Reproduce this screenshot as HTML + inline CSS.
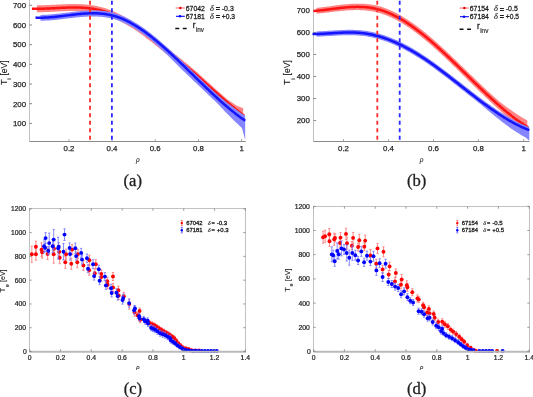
<!DOCTYPE html>
<html><head><meta charset="utf-8"><style>
html,body{margin:0;padding:0;background:#fff;width:533px;height:397px;overflow:hidden}
svg{display:block;will-change:transform;opacity:0.999}
</style></head><body>
<svg width="533" height="397" viewBox="0 0 533 397"><line x1="29.5" y1="0" x2="29.5" y2="141.5" stroke="#c0c0c0" stroke-width="1"/>
<line x1="29.5" y1="141.5" x2="245.7" y2="141.5" stroke="#8a8a8a" stroke-width="1"/>
<line x1="29.5" y1="5.3" x2="32.1" y2="5.3" stroke="#777" stroke-width="0.9"/>
<text x="26.00" y="8.10" text-anchor="end" style="font-family:'Liberation Sans',sans-serif;font-size:7.85px;stroke:#1e1e1e;stroke-width:0.25px" fill="#1e1e1e">700</text>
<line x1="29.5" y1="24.98" x2="32.1" y2="24.98" stroke="#777" stroke-width="0.9"/>
<text x="26.00" y="27.78" text-anchor="end" style="font-family:'Liberation Sans',sans-serif;font-size:7.85px;stroke:#1e1e1e;stroke-width:0.25px" fill="#1e1e1e">600</text>
<line x1="29.5" y1="44.66" x2="32.1" y2="44.66" stroke="#777" stroke-width="0.9"/>
<text x="26.00" y="47.46" text-anchor="end" style="font-family:'Liberation Sans',sans-serif;font-size:7.85px;stroke:#1e1e1e;stroke-width:0.25px" fill="#1e1e1e">500</text>
<line x1="29.5" y1="64.34" x2="32.1" y2="64.34" stroke="#777" stroke-width="0.9"/>
<text x="26.00" y="67.14" text-anchor="end" style="font-family:'Liberation Sans',sans-serif;font-size:7.85px;stroke:#1e1e1e;stroke-width:0.25px" fill="#1e1e1e">400</text>
<line x1="29.5" y1="84.02" x2="32.1" y2="84.02" stroke="#777" stroke-width="0.9"/>
<text x="26.00" y="86.82" text-anchor="end" style="font-family:'Liberation Sans',sans-serif;font-size:7.85px;stroke:#1e1e1e;stroke-width:0.25px" fill="#1e1e1e">300</text>
<line x1="29.5" y1="103.7" x2="32.1" y2="103.7" stroke="#777" stroke-width="0.9"/>
<text x="26.00" y="106.50" text-anchor="end" style="font-family:'Liberation Sans',sans-serif;font-size:7.85px;stroke:#1e1e1e;stroke-width:0.25px" fill="#1e1e1e">200</text>
<line x1="29.5" y1="123.38" x2="32.1" y2="123.38" stroke="#777" stroke-width="0.9"/>
<text x="26.00" y="126.18" text-anchor="end" style="font-family:'Liberation Sans',sans-serif;font-size:7.85px;stroke:#1e1e1e;stroke-width:0.25px" fill="#1e1e1e">100</text>
<line x1="69.0" y1="141.5" x2="69.0" y2="139.2" stroke="#999" stroke-width="0.9"/>
<text x="69.00" y="151.30" text-anchor="middle" style="font-family:'Liberation Sans',sans-serif;font-size:7.85px;stroke:#1e1e1e;stroke-width:0.25px" fill="#1e1e1e">0.2</text>
<line x1="112.0" y1="141.5" x2="112.0" y2="139.2" stroke="#999" stroke-width="0.9"/>
<text x="112.00" y="151.30" text-anchor="middle" style="font-family:'Liberation Sans',sans-serif;font-size:7.85px;stroke:#1e1e1e;stroke-width:0.25px" fill="#1e1e1e">0.4</text>
<line x1="155.2" y1="141.5" x2="155.2" y2="139.2" stroke="#999" stroke-width="0.9"/>
<text x="155.20" y="151.30" text-anchor="middle" style="font-family:'Liberation Sans',sans-serif;font-size:7.85px;stroke:#1e1e1e;stroke-width:0.25px" fill="#1e1e1e">0.6</text>
<line x1="198.5" y1="141.5" x2="198.5" y2="139.2" stroke="#999" stroke-width="0.9"/>
<text x="198.50" y="151.30" text-anchor="middle" style="font-family:'Liberation Sans',sans-serif;font-size:7.85px;stroke:#1e1e1e;stroke-width:0.25px" fill="#1e1e1e">0.8</text>
<line x1="241.6" y1="141.5" x2="241.6" y2="139.2" stroke="#999" stroke-width="0.9"/>
<text x="241.60" y="151.30" text-anchor="middle" style="font-family:'Liberation Sans',sans-serif;font-size:7.85px;stroke:#1e1e1e;stroke-width:0.25px" fill="#1e1e1e">1</text>
<polygon points="36.88,5.33 37.88,5.32 38.88,5.31 39.87,5.29 40.87,5.27 41.87,5.25 42.86,5.22 43.86,5.18 44.86,5.15 45.85,5.11 46.85,5.07 47.85,5.03 48.84,4.98 49.84,4.94 50.84,4.89 51.83,4.84 52.83,4.79 53.83,4.74 54.82,4.69 55.82,4.64 56.82,4.59 57.81,4.54 58.81,4.49 59.81,4.44 60.80,4.39 61.80,4.35 62.80,4.30 63.79,4.26 64.79,4.23 65.79,4.19 66.78,4.16 67.78,4.13 68.78,4.10 69.78,4.08 70.77,4.07 71.77,4.05 72.77,4.05 73.76,4.05 74.76,4.05 75.76,4.06 76.75,4.07 77.75,4.09 78.75,4.12 79.74,4.15 80.74,4.20 81.74,4.24 82.73,4.30 83.73,4.36 84.73,4.44 85.72,4.52 86.72,4.61 87.72,4.71 88.71,4.82 89.71,4.93 90.71,5.06 91.70,5.20 92.70,5.35 93.70,5.51 94.69,5.68 95.69,5.86 96.69,6.05 97.68,6.26 98.68,6.47 99.68,6.70 100.67,6.95 101.67,7.20 102.67,7.47 103.66,7.75 104.66,8.05 105.66,8.36 106.65,8.69 107.65,9.03 108.65,9.38 109.64,9.75 110.64,10.14 111.64,10.54 112.63,10.96 113.63,11.39 114.63,11.83 115.62,12.29 116.62,12.75 117.62,13.23 118.61,13.72 119.61,14.21 120.61,14.71 121.60,15.23 122.60,15.75 123.60,16.28 124.59,16.82 125.59,17.36 126.59,17.92 127.58,18.49 128.58,19.06 129.58,19.65 130.57,20.24 131.57,20.85 132.57,21.46 133.56,22.09 134.56,22.73 135.56,23.39 136.55,24.05 137.55,24.73 138.55,25.43 139.55,26.13 140.54,26.85 141.54,27.58 142.54,28.32 143.53,29.06 144.53,29.82 145.53,30.58 146.52,31.35 147.52,32.12 148.52,32.90 149.51,33.68 150.51,34.47 151.51,35.26 152.50,36.05 153.50,36.84 154.50,37.63 155.49,38.43 156.49,39.23 157.49,40.03 158.48,40.83 159.48,41.63 160.48,42.43 161.47,43.24 162.47,44.04 163.47,44.85 164.46,45.65 165.46,46.46 166.46,47.27 167.45,48.07 168.45,48.88 169.45,49.69 170.44,50.49 171.44,51.30 172.44,52.10 173.43,52.91 174.43,53.71 175.43,54.51 176.42,55.31 177.42,56.11 178.42,56.91 179.41,57.71 180.41,58.50 181.41,59.29 182.40,60.09 183.40,60.88 184.40,61.67 185.39,62.47 186.39,63.27 187.39,64.08 188.38,64.89 189.38,65.71 190.38,66.54 191.37,67.38 192.37,68.23 193.37,69.08 194.36,69.94 195.36,70.81 196.36,71.68 197.35,72.56 198.35,73.44 199.35,74.33 200.34,75.22 201.34,76.12 202.34,77.02 203.33,77.92 204.33,78.83 205.33,79.74 206.32,80.64 207.32,81.55 208.32,82.46 209.32,83.37 210.31,84.27 211.31,85.18 212.31,86.08 213.30,86.99 214.30,87.89 215.30,88.79 216.29,89.68 217.29,90.58 218.29,91.47 219.28,92.36 220.28,93.24 221.28,94.12 222.27,95.00 223.27,95.87 224.27,96.74 225.26,97.61 226.26,98.46 227.26,99.28 228.25,99.97 229.25,100.66 230.25,101.34 231.24,102.01 232.24,102.68 233.24,103.34 234.23,103.99 235.23,104.64 236.23,105.28 237.22,105.89 238.22,106.28 239.22,106.67 240.21,107.05 241.21,107.42 242.21,107.78 243.20,108.13 243.20,124.05 242.21,122.82 241.21,121.58 240.21,120.33 239.22,119.08 238.22,117.82 237.22,116.54 236.23,115.50 235.23,114.51 234.23,113.52 233.24,112.51 232.24,111.51 231.24,110.49 230.25,109.47 229.25,108.44 228.25,107.41 227.26,106.37 226.26,105.46 225.26,104.59 224.27,103.71 223.27,102.83 222.27,101.95 221.28,101.06 220.28,100.17 219.28,99.27 218.29,98.37 217.29,97.47 216.29,96.56 215.30,95.66 214.30,94.75 213.30,93.83 212.31,92.92 211.31,92.00 210.31,91.09 209.32,90.17 208.32,89.25 207.32,88.33 206.32,87.41 205.33,86.50 204.33,85.58 203.33,84.66 202.34,83.75 201.34,82.83 200.34,81.92 199.35,81.03 198.35,80.14 197.35,79.26 196.36,78.38 195.36,77.51 194.36,76.65 193.37,75.79 192.37,74.94 191.37,74.10 190.38,73.26 189.38,72.43 188.38,71.61 187.39,70.80 186.39,70.00 185.39,69.20 184.40,68.40 183.40,67.61 182.40,66.82 181.41,66.03 180.41,65.24 179.41,64.44 178.42,63.65 177.42,62.85 176.42,62.05 175.43,61.26 174.43,60.45 173.43,59.65 172.44,58.85 171.44,58.05 170.44,57.24 169.45,56.44 168.45,55.64 167.45,54.83 166.46,54.03 165.46,53.22 164.46,52.42 163.47,51.61 162.47,50.81 161.47,50.01 160.48,49.20 159.48,48.40 158.48,47.60 157.49,46.80 156.49,46.00 155.49,45.21 154.50,44.41 153.50,43.62 152.50,42.83 151.51,42.04 150.51,41.26 149.51,40.47 148.52,39.69 147.52,38.92 146.52,38.14 145.53,37.38 144.53,36.62 143.53,35.86 142.54,35.12 141.54,34.38 140.54,33.66 139.55,32.94 138.55,32.24 137.55,31.54 136.55,30.87 135.56,30.20 134.56,29.55 133.56,28.91 132.57,28.28 131.57,27.67 130.57,27.06 129.58,26.47 128.58,25.89 127.58,25.32 126.59,24.75 125.59,24.20 124.59,23.65 123.60,23.11 122.60,22.59 121.60,22.07 120.61,21.56 119.61,21.05 118.61,20.56 117.62,20.08 116.62,19.60 115.62,19.14 114.63,18.68 113.63,18.24 112.63,17.81 111.64,17.40 110.64,17.00 109.64,16.61 108.65,16.24 107.65,15.89 106.65,15.55 105.66,15.23 104.66,14.92 103.66,14.63 102.67,14.34 101.67,14.08 100.67,13.82 99.68,13.58 98.68,13.35 97.68,13.14 96.69,12.94 95.69,12.74 94.69,12.56 93.70,12.40 92.70,12.24 91.70,12.09 90.71,11.96 89.71,11.83 88.71,11.71 87.72,11.61 86.72,11.51 85.72,11.42 84.73,11.34 83.73,11.27 82.73,11.21 81.74,11.15 80.74,11.11 79.74,11.07 78.75,11.04 77.75,11.01 76.75,10.99 75.76,10.98 74.76,10.97 73.76,10.97 72.77,10.97 71.77,10.98 70.77,11.00 69.78,11.02 68.78,11.04 67.78,11.06 66.78,11.10 65.79,11.13 64.79,11.17 63.79,11.21 62.80,11.25 61.80,11.29 60.80,11.34 59.81,11.39 58.81,11.44 57.81,11.49 56.82,11.54 55.82,11.59 54.82,11.65 53.83,11.70 52.83,11.75 51.83,11.80 50.84,11.85 49.84,11.90 48.84,11.95 47.85,12.00 46.85,12.04 45.85,12.08 44.86,12.12 43.86,12.16 42.86,12.20 41.87,12.23 40.87,12.25 39.87,12.28 38.88,12.29 37.88,12.31 36.88,12.32" fill="#ff8585"/>
<polyline points="31.90,8.78 32.90,8.80 33.89,8.81 34.89,8.82 35.89,8.82 36.88,8.82 37.88,8.81 38.88,8.79 39.87,8.78 40.87,8.75 41.87,8.73 42.86,8.70 43.86,8.66 44.86,8.62 45.85,8.58 46.85,8.54 47.85,8.50 48.84,8.45 49.84,8.40 50.84,8.35 51.83,8.30 52.83,8.25 53.83,8.20 54.82,8.15 55.82,8.09 56.82,8.04 57.81,7.99 58.81,7.94 59.81,7.89 60.80,7.84 61.80,7.79 62.80,7.75 63.79,7.71 64.79,7.67 65.79,7.63 66.78,7.60 67.78,7.56 68.78,7.54 69.78,7.52 70.77,7.50 71.77,7.48 72.77,7.47 73.76,7.47 74.76,7.47 75.76,7.48 76.75,7.49 77.75,7.51 78.75,7.54 79.74,7.57 80.74,7.61 81.74,7.65 82.73,7.71 83.73,7.77 84.73,7.84 85.72,7.92 86.72,8.01 87.72,8.11 88.71,8.21 89.71,8.33 90.71,8.46 91.70,8.59 92.70,8.74 93.70,8.90 94.69,9.06 95.69,9.24 96.69,9.44 97.68,9.64 98.68,9.85 99.68,10.08 100.67,10.32 101.67,10.58 102.67,10.84 103.66,11.13 104.66,11.42 105.66,11.73 106.65,12.05 107.65,12.39 108.65,12.74 109.64,13.11 110.64,13.50 111.64,13.90 112.63,14.31 113.63,14.74 114.63,15.18 115.62,15.64 116.62,16.10 117.62,16.58 118.61,17.06 119.61,17.55 120.61,18.06 121.60,18.57 122.60,19.09 123.60,19.61 124.59,20.15 125.59,20.70 126.59,21.25 127.58,21.82 128.58,22.39 129.58,22.97 130.57,23.56 131.57,24.17 132.57,24.78 133.56,25.41 134.56,26.05 135.56,26.70 136.55,27.37 137.55,28.04 138.55,28.74 139.55,29.44 140.54,30.16 141.54,30.88 142.54,31.62 143.53,32.36 144.53,33.12 145.53,33.88 146.52,34.64 147.52,35.42 148.52,36.19 149.51,36.97 150.51,37.76 151.51,38.54 152.50,39.33 153.50,40.12 154.50,40.91 155.49,41.71 156.49,42.50 157.49,43.30 158.48,44.10 159.48,44.90 160.48,45.70 161.47,46.51 162.47,47.31 163.47,48.11 164.46,48.92 165.46,49.72 166.46,50.53 167.45,51.33 168.45,52.14 169.45,52.94 170.44,53.74 171.44,54.55 172.44,55.35 173.43,56.15 174.43,56.95 175.43,57.76 176.42,58.55 177.42,59.35 178.42,60.15 179.41,60.94 180.41,61.74 181.41,62.53 182.40,63.32 183.40,64.11 184.40,64.90 185.39,65.70 186.39,66.50 187.39,67.30 188.38,68.11 189.38,68.93 190.38,69.76 191.37,70.60 192.37,71.44 193.37,72.29 194.36,73.15 195.36,74.01 196.36,74.88 197.35,75.76 198.35,76.64 199.35,77.53 200.34,78.42 201.34,79.31 202.34,80.20 203.33,81.10 204.33,82.00 205.33,82.90 206.32,83.80 207.32,84.70 208.32,85.60 209.32,86.50 210.31,87.40 211.31,88.29 212.31,89.19 213.30,90.09 214.30,90.98 215.30,91.87 216.29,92.76 217.29,93.65 218.29,94.53 219.28,95.41 220.28,96.29 221.28,97.17 222.27,98.03 223.27,98.90 224.27,99.76 225.26,100.62 226.26,101.47 227.26,102.32 228.25,103.16 229.25,103.99 230.25,104.82 231.24,105.64 232.24,106.46 233.24,107.27 234.23,108.07 235.23,108.86 236.23,109.65 237.22,110.43 238.22,111.21 239.22,111.97 240.21,112.73 241.21,113.48 242.21,114.22 243.20,114.95 244.20,115.67" fill="none" stroke="#ff1414" stroke-width="2.5" stroke-linejoin="round"/>
<polygon points="40.49,14.89 41.49,14.88 42.49,14.86 43.49,14.84 44.49,14.80 45.49,14.76 46.48,14.71 47.48,14.65 48.48,14.59 49.48,14.52 50.48,14.44 51.48,14.36 52.48,14.27 53.47,14.18 54.47,14.08 55.47,13.98 56.47,13.87 57.47,13.76 58.47,13.65 59.47,13.53 60.46,13.41 61.46,13.29 62.46,13.17 63.46,13.04 64.46,12.92 65.46,12.79 66.46,12.66 67.45,12.54 68.45,12.41 69.45,12.29 70.45,12.16 71.45,12.04 72.45,11.92 73.45,11.80 74.44,11.68 75.44,11.56 76.44,11.45 77.44,11.35 78.44,11.24 79.44,11.14 80.44,11.05 81.43,10.96 82.43,10.87 83.43,10.79 84.43,10.72 85.43,10.65 86.43,10.59 87.43,10.54 88.42,10.49 89.42,10.46 90.42,10.43 91.42,10.41 92.42,10.40 93.42,10.39 94.42,10.40 95.41,10.42 96.41,10.44 97.41,10.48 98.41,10.53 99.41,10.59 100.41,10.66 101.41,10.75 102.40,10.84 103.40,10.95 104.40,11.08 105.40,11.21 106.40,11.36 107.40,11.53 108.40,11.71 109.39,11.90 110.39,12.11 111.39,12.34 112.39,12.58 113.39,12.83 114.39,13.11 115.39,13.40 116.38,13.71 117.38,14.04 118.38,14.38 119.38,14.74 120.38,15.12 121.38,15.51 122.38,15.92 123.37,16.35 124.37,16.79 125.37,17.25 126.37,17.73 127.37,18.22 128.37,18.72 129.37,19.24 130.36,19.77 131.36,20.32 132.36,20.88 133.36,21.45 134.36,22.04 135.36,22.64 136.36,23.26 137.35,23.89 138.35,24.53 139.35,25.18 140.35,25.84 141.35,26.52 142.35,27.20 143.35,27.90 144.34,28.61 145.34,29.33 146.34,30.06 147.34,30.81 148.34,31.56 149.34,32.32 150.34,33.09 151.33,33.87 152.33,34.66 153.33,35.46 154.33,36.26 155.33,37.08 156.33,37.90 157.33,38.73 158.32,39.57 159.32,40.42 160.32,41.27 161.32,42.14 162.32,43.00 163.32,43.88 164.32,44.76 165.31,45.65 166.31,46.54 167.31,47.44 168.31,48.35 169.31,49.26 170.31,50.18 171.31,51.10 172.30,52.02 173.30,52.95 174.30,53.89 175.30,54.83 176.30,55.77 177.30,56.72 178.30,57.67 179.29,58.62 180.29,59.57 181.29,60.51 182.29,61.45 183.29,62.40 184.29,63.35 185.29,64.29 186.28,65.25 187.28,66.20 188.28,67.15 189.28,68.11 190.28,69.06 191.28,70.02 192.28,70.97 193.27,71.93 194.27,72.89 195.27,73.84 196.27,74.80 197.27,75.75 198.27,76.71 199.27,77.66 200.26,78.61 201.26,79.56 202.26,80.51 203.26,81.45 204.26,82.40 205.26,83.34 206.26,84.28 207.25,85.21 208.25,86.14 209.25,87.07 210.25,88.00 211.25,88.92 212.25,89.84 213.25,90.75 214.24,91.66 215.24,92.56 216.24,93.46 217.24,94.36 218.24,95.24 219.24,96.13 220.24,97.00 221.23,97.84 222.23,98.67 223.23,99.49 224.23,100.31 225.23,101.13 226.23,101.93 227.23,102.73 228.22,103.52 229.22,104.30 230.22,105.08 231.22,105.84 232.22,106.60 233.22,107.35 234.22,108.09 235.21,108.82 236.21,109.54 237.21,110.26 238.21,110.98 239.21,111.69 240.21,112.38 241.21,113.07 242.20,113.75 243.20,114.42 244.20,115.07 245.20,115.72 245.20,139.92 244.20,136.21 243.20,132.49 242.20,128.76 241.21,127.29 240.21,126.38 239.21,125.47 238.21,124.54 237.21,123.61 236.21,122.66 235.21,121.71 234.22,120.74 233.22,119.77 232.22,118.79 231.22,117.80 230.22,116.80 229.22,115.79 228.22,114.77 227.23,113.75 226.23,112.72 225.23,111.68 224.23,110.64 223.23,109.59 222.23,108.53 221.23,107.46 220.24,106.39 219.24,105.32 218.24,104.23 217.24,103.14 216.24,102.19 215.24,101.27 214.24,100.34 213.25,99.41 212.25,98.48 211.25,97.54 210.25,96.60 209.25,95.66 208.25,94.71 207.25,93.76 206.26,92.80 205.26,91.84 204.26,90.90 203.26,89.95 202.26,89.01 201.26,88.06 200.26,87.11 199.27,86.16 198.27,85.21 197.27,84.25 196.27,83.30 195.27,82.34 194.27,81.39 193.27,80.43 192.28,79.47 191.28,78.52 190.28,77.56 189.28,76.61 188.28,75.65 187.28,74.70 186.28,73.75 185.29,72.79 184.29,71.85 183.29,70.90 182.29,69.95 181.29,69.01 180.29,68.07 179.29,67.07 178.30,66.04 177.30,65.02 176.30,64.01 175.30,62.99 174.30,61.98 173.30,60.98 172.30,59.97 171.31,58.98 170.31,57.98 169.31,57.00 168.31,56.01 167.31,55.04 166.31,54.07 165.31,53.10 164.32,52.14 163.32,51.19 162.32,50.24 161.32,49.30 160.32,48.37 159.32,47.44 158.32,46.53 157.33,45.61 156.33,44.71 155.33,43.82 154.33,42.93 153.33,42.05 152.33,41.18 151.33,40.32 150.34,39.47 149.34,38.67 148.34,37.91 147.34,37.15 146.34,36.40 145.34,35.67 144.34,34.94 143.35,34.23 142.35,33.53 141.35,32.83 140.35,32.15 139.35,31.48 138.35,30.83 137.35,30.18 136.36,29.55 135.36,28.93 134.36,28.33 133.36,27.73 132.36,27.15 131.36,26.59 130.36,26.03 129.37,25.50 128.37,24.97 127.37,24.46 126.37,23.97 125.37,23.49 124.37,23.03 123.37,22.58 122.38,22.15 121.38,21.73 120.38,21.33 119.38,20.95 118.38,20.59 117.38,20.24 116.38,19.91 115.39,19.59 114.39,19.30 113.39,19.02 112.39,18.75 111.39,18.51 110.39,18.28 109.39,18.06 108.40,17.86 107.40,17.68 106.40,17.51 105.40,17.36 104.40,17.21 103.40,17.09 102.40,16.97 101.41,16.87 100.41,16.78 99.41,16.70 98.41,16.64 97.41,16.58 96.41,16.54 95.41,16.51 94.42,16.49 93.42,16.48 92.42,16.47 91.42,16.48 90.42,16.50 89.42,16.52 88.42,16.55 87.43,16.59 86.43,16.64 85.43,16.70 84.43,16.76 83.43,16.83 82.43,16.90 81.43,16.98 80.44,17.07 79.44,17.16 78.44,17.25 77.44,17.35 76.44,17.45 75.44,17.56 74.44,17.67 73.45,17.78 72.45,17.90 71.45,18.01 70.45,18.13 69.45,18.25 68.45,18.37 67.45,18.50 66.46,18.62 65.46,18.74 64.46,18.86 63.46,18.98 62.46,19.10 61.46,19.22 60.46,19.34 59.47,19.45 58.47,19.56 57.47,19.67 56.47,19.77 55.47,19.88 54.47,19.97 53.47,20.07 52.48,20.16 51.48,20.24 50.48,20.32 49.48,20.39 48.48,20.45 47.48,20.51 46.48,20.57 45.49,20.61 44.49,20.65 43.49,20.68 42.49,20.70 41.49,20.71 40.49,20.72" fill="#8585ff"/>
<polyline points="35.50,17.59 36.50,17.63 37.50,17.66 38.50,17.68 39.49,17.70 40.49,17.70 41.49,17.69 42.49,17.68 43.49,17.65 44.49,17.62 45.49,17.58 46.48,17.53 47.48,17.47 48.48,17.41 49.48,17.34 50.48,17.26 51.48,17.18 52.48,17.09 53.47,17.00 54.47,16.91 55.47,16.80 56.47,16.70 57.47,16.59 58.47,16.48 59.47,16.36 60.46,16.25 61.46,16.13 62.46,16.01 63.46,15.88 64.46,15.76 65.46,15.63 66.46,15.51 67.45,15.38 68.45,15.26 69.45,15.13 70.45,15.01 71.45,14.89 72.45,14.77 73.45,14.65 74.44,14.53 75.44,14.42 76.44,14.31 77.44,14.20 78.44,14.10 79.44,14.00 80.44,13.91 81.43,13.82 82.43,13.74 83.43,13.66 84.43,13.59 85.43,13.52 86.43,13.46 87.43,13.41 88.42,13.37 89.42,13.33 90.42,13.30 91.42,13.29 92.42,13.27 93.42,13.27 94.42,13.28 95.41,13.30 96.41,13.33 97.41,13.37 98.41,13.42 99.41,13.48 100.41,13.55 101.41,13.64 102.40,13.74 103.40,13.85 104.40,13.97 105.40,14.11 106.40,14.26 107.40,14.43 108.40,14.61 109.39,14.80 110.39,15.01 111.39,15.24 112.39,15.48 113.39,15.74 114.39,16.02 115.39,16.31 116.38,16.62 117.38,16.95 118.38,17.30 119.38,17.66 120.38,18.04 121.38,18.43 122.38,18.85 123.37,19.27 124.37,19.72 125.37,20.18 126.37,20.65 127.37,21.14 128.37,21.65 129.37,22.17 130.36,22.70 131.36,23.25 132.36,23.81 133.36,24.39 134.36,24.98 135.36,25.58 136.36,26.20 137.35,26.83 138.35,27.47 139.35,28.12 140.35,28.79 141.35,29.46 142.35,30.15 143.35,30.85 144.34,31.56 145.34,32.29 146.34,33.02 147.34,33.76 148.34,34.51 149.34,35.28 150.34,36.05 151.33,36.83 152.33,37.62 153.33,38.42 154.33,39.23 155.33,40.04 156.33,40.87 157.33,41.70 158.32,42.54 159.32,43.39 160.32,44.25 161.32,45.11 162.32,45.98 163.32,46.86 164.32,47.74 165.31,48.63 166.31,49.52 167.31,50.43 168.31,51.33 169.31,52.25 170.31,53.16 171.31,54.09 172.30,55.01 173.30,55.94 174.30,56.88 175.30,57.82 176.30,58.77 177.30,59.71 178.30,60.66 179.29,61.62 180.29,62.58 181.29,63.54 182.29,64.50 183.29,65.46 184.29,66.43 185.29,67.40 186.28,68.37 187.28,69.34 188.28,70.32 189.28,71.29 190.28,72.27 191.28,73.24 192.28,74.22 193.27,75.20 194.27,76.17 195.27,77.15 196.27,78.12 197.27,79.10 198.27,80.07 199.27,81.04 200.26,82.02 201.26,82.98 202.26,83.95 203.26,84.92 204.26,85.88 205.26,86.84 206.26,87.80 207.25,88.76 208.25,89.71 209.25,90.66 210.25,91.60 211.25,92.54 212.25,93.48 213.25,94.41 214.24,95.34 215.24,96.27 216.24,97.19 217.24,98.10 218.24,99.01 219.24,99.91 220.24,100.81 221.23,101.70 222.23,102.59 223.23,103.46 224.23,104.34 225.23,105.20 226.23,106.06 227.23,106.91 228.22,107.75 229.22,108.59 230.22,109.42 231.22,110.24 232.22,111.05 233.22,111.85 234.22,112.64 235.21,113.43 236.21,114.20 237.21,114.97 238.21,115.72 239.21,116.47 240.21,117.20 241.21,117.93 242.20,118.64 243.20,119.35 244.20,120.04 245.20,120.72" fill="none" stroke="#1414ff" stroke-width="2.5" stroke-linejoin="round"/>
<line x1="90.05" y1="0" x2="90.05" y2="140.3" stroke="#ff2a2a" stroke-width="1.8" stroke-dasharray="4 3.5" stroke-dashoffset="-0.8"/>
<line x1="111.9" y1="0" x2="111.9" y2="140.3" stroke="#2a2aff" stroke-width="1.8" stroke-dasharray="4 3.5" stroke-dashoffset="-0.8"/>
<line x1="175.6" y1="8.0" x2="184.79999999999998" y2="8.0" stroke="#ffaaaa" stroke-width="1.8"/>
<circle cx="180.4" cy="8.0" r="1.25" fill="#ee0000"/>
<text x="185.80" y="10.9" textLength="19.00" lengthAdjust="spacingAndGlyphs" style="font-family:'Liberation Sans',sans-serif;font-size:8.1px;stroke:#1e1e1e;stroke-width:0.3px" fill="#1e1e1e">67042</text>
<text x="210.10" y="10.9" style="font-family:'Liberation Serif',serif;font-size:8.4px;font-style:italic;stroke:#1e1e1e;stroke-width:0.15px" fill="#1e1e1e">δ</text>
<text x="215.70" y="11.4" textLength="4.30" lengthAdjust="spacingAndGlyphs" style="font-family:'Liberation Sans',sans-serif;font-size:6.6px;stroke:#1e1e1e;stroke-width:0.35px" fill="#1e1e1e">=</text>
<text x="221.80" y="10.9" textLength="12.00" lengthAdjust="spacingAndGlyphs" style="font-family:'Liberation Sans',sans-serif;font-size:8.1px;stroke:#1e1e1e;stroke-width:0.3px" fill="#1e1e1e">-0.3</text>
<line x1="176.0" y1="16.3" x2="184.79999999999998" y2="16.3" stroke="#0000ff" stroke-width="1.1"/>
<circle cx="180.0" cy="16.3" r="1.2" fill="#0000ff"/>
<text x="185.80" y="18.6" textLength="19.00" lengthAdjust="spacingAndGlyphs" style="font-family:'Liberation Sans',sans-serif;font-size:8.1px;stroke:#1e1e1e;stroke-width:0.3px" fill="#1e1e1e">67181</text>
<text x="210.10" y="18.6" style="font-family:'Liberation Serif',serif;font-size:8.4px;font-style:italic;stroke:#1e1e1e;stroke-width:0.15px" fill="#1e1e1e">δ</text>
<text x="215.70" y="19.1" textLength="4.30" lengthAdjust="spacingAndGlyphs" style="font-family:'Liberation Sans',sans-serif;font-size:6.6px;stroke:#1e1e1e;stroke-width:0.35px" fill="#1e1e1e">=</text>
<text x="221.80" y="18.6" textLength="13.30" lengthAdjust="spacingAndGlyphs" style="font-family:'Liberation Sans',sans-serif;font-size:8.1px;stroke:#1e1e1e;stroke-width:0.3px" fill="#1e1e1e">+0.3</text>
<line x1="175.3" y1="28.5" x2="186.8" y2="28.5" stroke="#111" stroke-width="1.5" stroke-dasharray="3.9 3.6"/>
<text x="192.70" y="27.90" text-anchor="start" style="font-family:'Liberation Sans',sans-serif;font-size:8.2px;stroke:#1e1e1e;stroke-width:0.3px" fill="#1e1e1e">r</text>
<text x="195.90" y="31.80" text-anchor="start" style="font-family:'Liberation Sans',sans-serif;font-size:6.4px;stroke:#333;stroke-width:0.2px" fill="#333">inv</text>
<text transform="translate(7.1,85.1) rotate(-90)" style="font-family:'Liberation Sans',sans-serif;font-size:9.2px;stroke:#1e1e1e;stroke-width:0.15px" fill="#1e1e1e">T</text>
<text transform="translate(11.399999999999999,79.8) rotate(-90)" style="font-family:'Liberation Sans',sans-serif;font-size:6px;stroke:#1e1e1e;stroke-width:0.15px" fill="#333">i</text>
<text transform="translate(7.1,75.5) rotate(-90)" textLength="15.2" lengthAdjust="spacingAndGlyphs" style="font-family:'Liberation Sans',sans-serif;font-size:8.7px;stroke:#1e1e1e;stroke-width:0.18px" fill="#1e1e1e">[eV]</text>
<text x="137.80" y="161.90" text-anchor="middle" style="font-family:'Liberation Sans',sans-serif;font-size:6.4px;stroke:#1e1e1e;stroke-width:0.1px;font-style:italic" fill="#1e1e1e">ρ</text>
<text x="132.70" y="185.60" text-anchor="middle" style="font-family:'Liberation Serif',serif;font-size:16.6px;stroke:#1e1e1e;stroke-width:0.3px" fill="#1e1e1e">(a)</text>
<line x1="313.5" y1="0" x2="313.5" y2="141.5" stroke="#c0c0c0" stroke-width="1"/>
<line x1="313.5" y1="141.5" x2="529.6" y2="141.5" stroke="#8a8a8a" stroke-width="1"/>
<line x1="313.5" y1="10.4" x2="316.1" y2="10.4" stroke="#777" stroke-width="0.9"/>
<text x="309.80" y="13.20" text-anchor="end" style="font-family:'Liberation Sans',sans-serif;font-size:7.85px;stroke:#1e1e1e;stroke-width:0.25px" fill="#1e1e1e">700</text>
<line x1="313.5" y1="32.44" x2="316.1" y2="32.44" stroke="#777" stroke-width="0.9"/>
<text x="309.80" y="35.24" text-anchor="end" style="font-family:'Liberation Sans',sans-serif;font-size:7.85px;stroke:#1e1e1e;stroke-width:0.25px" fill="#1e1e1e">600</text>
<line x1="313.5" y1="54.48" x2="316.1" y2="54.48" stroke="#777" stroke-width="0.9"/>
<text x="309.80" y="57.28" text-anchor="end" style="font-family:'Liberation Sans',sans-serif;font-size:7.85px;stroke:#1e1e1e;stroke-width:0.25px" fill="#1e1e1e">500</text>
<line x1="313.5" y1="76.52000000000001" x2="316.1" y2="76.52000000000001" stroke="#777" stroke-width="0.9"/>
<text x="309.80" y="79.32" text-anchor="end" style="font-family:'Liberation Sans',sans-serif;font-size:7.85px;stroke:#1e1e1e;stroke-width:0.25px" fill="#1e1e1e">400</text>
<line x1="313.5" y1="98.56" x2="316.1" y2="98.56" stroke="#777" stroke-width="0.9"/>
<text x="309.80" y="101.36" text-anchor="end" style="font-family:'Liberation Sans',sans-serif;font-size:7.85px;stroke:#1e1e1e;stroke-width:0.25px" fill="#1e1e1e">300</text>
<line x1="313.5" y1="120.6" x2="316.1" y2="120.6" stroke="#777" stroke-width="0.9"/>
<text x="309.80" y="123.40" text-anchor="end" style="font-family:'Liberation Sans',sans-serif;font-size:7.85px;stroke:#1e1e1e;stroke-width:0.25px" fill="#1e1e1e">200</text>
<line x1="343.5" y1="141.5" x2="343.5" y2="139.2" stroke="#999" stroke-width="0.9"/>
<text x="343.50" y="151.30" text-anchor="middle" style="font-family:'Liberation Sans',sans-serif;font-size:7.85px;stroke:#1e1e1e;stroke-width:0.25px" fill="#1e1e1e">0.2</text>
<line x1="388.5" y1="141.5" x2="388.5" y2="139.2" stroke="#999" stroke-width="0.9"/>
<text x="388.50" y="151.30" text-anchor="middle" style="font-family:'Liberation Sans',sans-serif;font-size:7.85px;stroke:#1e1e1e;stroke-width:0.25px" fill="#1e1e1e">0.4</text>
<line x1="433.5" y1="141.5" x2="433.5" y2="139.2" stroke="#999" stroke-width="0.9"/>
<text x="433.50" y="151.30" text-anchor="middle" style="font-family:'Liberation Sans',sans-serif;font-size:7.85px;stroke:#1e1e1e;stroke-width:0.25px" fill="#1e1e1e">0.6</text>
<line x1="478.4" y1="141.5" x2="478.4" y2="139.2" stroke="#999" stroke-width="0.9"/>
<text x="478.40" y="151.30" text-anchor="middle" style="font-family:'Liberation Sans',sans-serif;font-size:7.85px;stroke:#1e1e1e;stroke-width:0.25px" fill="#1e1e1e">0.8</text>
<line x1="523.7" y1="141.5" x2="523.7" y2="139.2" stroke="#999" stroke-width="0.9"/>
<text x="523.70" y="151.30" text-anchor="middle" style="font-family:'Liberation Sans',sans-serif;font-size:7.85px;stroke:#1e1e1e;stroke-width:0.25px" fill="#1e1e1e">1</text>
<polygon points="316.40,7.85 317.40,7.75 318.40,7.64 319.40,7.53 320.40,7.42 321.40,7.30 322.40,7.18 323.40,7.05 324.39,6.93 325.39,6.80 326.39,6.67 327.39,6.54 328.39,6.41 329.39,6.27 330.39,6.14 331.39,6.01 332.39,5.88 333.39,5.74 334.39,5.61 335.39,5.48 336.39,5.35 337.39,5.23 338.39,5.10 339.39,4.98 340.39,4.86 341.39,4.75 342.39,4.64 343.39,4.53 344.39,4.43 345.39,4.33 346.38,4.24 347.38,4.15 348.38,4.07 349.38,4.00 350.38,3.93 351.38,3.87 352.38,3.81 353.38,3.76 354.38,3.72 355.38,3.69 356.38,3.67 357.38,3.66 358.38,3.65 359.38,3.66 360.38,3.67 361.38,3.70 362.38,3.73 363.38,3.78 364.38,3.84 365.38,3.91 366.38,3.99 367.37,4.08 368.37,4.19 369.37,4.31 370.37,4.44 371.37,4.58 372.37,4.74 373.37,4.92 374.37,5.11 375.37,5.31 376.37,5.53 377.37,5.77 378.37,6.02 379.37,6.28 380.37,6.57 381.37,6.87 382.37,7.18 383.37,7.51 384.37,7.85 385.37,8.21 386.37,8.59 387.37,8.97 388.37,9.38 389.36,9.79 390.36,10.23 391.36,10.67 392.36,11.13 393.36,11.60 394.36,12.09 395.36,12.59 396.36,13.10 397.36,13.62 398.36,14.16 399.36,14.71 400.36,15.27 401.36,15.84 402.36,16.43 403.36,17.03 404.36,17.64 405.36,18.26 406.36,18.89 407.36,19.53 408.36,20.18 409.36,20.85 410.35,21.52 411.35,22.21 412.35,22.90 413.35,23.61 414.35,24.32 415.35,25.04 416.35,25.78 417.35,26.52 418.35,27.27 419.35,28.03 420.35,28.80 421.35,29.58 422.35,30.37 423.35,31.16 424.35,31.97 425.35,32.78 426.35,33.59 427.35,34.42 428.35,35.25 429.35,36.09 430.35,36.94 431.35,37.79 432.34,38.65 433.34,39.52 434.34,40.39 435.34,41.27 436.34,42.16 437.34,43.05 438.34,43.94 439.34,44.84 440.34,45.75 441.34,46.66 442.34,47.58 443.34,48.50 444.34,49.42 445.34,50.35 446.34,51.29 447.34,52.22 448.34,53.17 449.34,54.11 450.34,55.06 451.34,56.01 452.34,56.96 453.33,57.92 454.33,58.88 455.33,59.84 456.33,60.80 457.33,61.77 458.33,62.73 459.33,63.70 460.33,64.67 461.33,65.64 462.33,66.61 463.33,67.58 464.33,68.56 465.33,69.53 466.33,70.50 467.33,71.48 468.33,72.45 469.33,73.42 470.33,74.39 471.33,75.37 472.33,76.34 473.33,77.31 474.33,78.27 475.32,79.24 476.32,80.20 477.32,81.17 478.32,82.13 479.32,83.08 480.32,84.04 481.32,84.99 482.32,85.94 483.32,86.89 484.32,87.83 485.32,88.77 486.32,89.70 487.32,90.64 488.32,91.56 489.32,92.49 490.32,93.41 491.32,94.32 492.32,95.23 493.32,96.13 494.32,97.03 495.32,97.93 496.31,98.82 497.31,99.70 498.31,100.57 499.31,101.44 500.31,102.28 501.31,103.04 502.31,103.80 503.31,104.55 504.31,105.29 505.31,106.03 506.31,106.76 507.31,107.48 508.31,108.19 509.31,108.89 510.31,109.60 511.31,110.32 512.31,111.02 513.31,111.73 514.31,112.42 515.31,113.10 516.31,113.77 517.31,114.44 518.30,115.09 519.30,115.73 520.30,116.36 521.30,116.99 522.30,117.60 523.30,118.20 524.30,118.79 525.30,119.37 526.30,119.95 527.30,120.58 527.30,132.77 526.30,132.09 525.30,131.39 524.30,130.68 523.30,129.96 522.30,129.23 521.30,128.49 520.30,127.73 519.30,126.97 518.30,126.20 517.31,125.41 516.31,124.62 515.31,123.81 514.31,123.00 513.31,122.18 512.31,121.35 511.31,120.51 510.31,119.66 509.31,118.80 508.31,117.93 507.31,117.06 506.31,116.18 505.31,115.29 504.31,114.39 503.31,113.49 502.31,112.57 501.31,111.65 500.31,110.73 499.31,109.83 498.31,108.95 497.31,108.06 496.31,107.16 495.32,106.26 494.32,105.35 493.32,104.44 492.32,103.52 491.32,102.60 490.32,101.67 489.32,100.74 488.32,99.80 487.32,98.86 486.32,97.91 485.32,96.96 484.32,96.01 483.32,95.05 482.32,94.09 481.32,93.13 480.32,92.16 479.32,91.20 478.32,90.22 477.32,89.25 476.32,88.27 475.32,87.30 474.33,86.32 473.33,85.33 472.33,84.35 471.33,83.37 470.33,82.38 469.33,81.40 468.33,80.41 467.33,79.42 466.33,78.44 465.33,77.45 464.33,76.46 463.33,75.47 462.33,74.49 461.33,73.50 460.33,72.52 459.33,71.54 458.33,70.55 457.33,69.57 456.33,68.59 455.33,67.62 454.33,66.64 453.33,65.67 452.34,64.70 451.34,63.73 450.34,62.77 449.34,61.81 448.34,60.85 447.34,59.89 446.34,58.94 445.34,57.99 444.34,57.05 443.34,56.11 442.34,55.18 441.34,54.25 440.34,53.32 439.34,52.40 438.34,51.49 437.34,50.58 436.34,49.67 435.34,48.77 434.34,47.88 433.34,46.99 432.34,46.11 431.35,45.24 430.35,44.37 429.35,43.51 428.35,42.66 427.35,41.81 426.35,40.97 425.35,40.14 424.35,39.31 423.35,38.50 422.35,37.69 421.35,36.89 420.35,36.10 419.35,35.31 418.35,34.54 417.35,33.77 416.35,33.02 415.35,32.27 414.35,31.53 413.35,30.80 412.35,30.08 411.35,29.37 410.35,28.67 409.36,27.99 408.36,27.31 407.36,26.64 406.36,25.98 405.36,25.34 404.36,24.71 403.36,24.08 402.36,23.47 401.36,22.87 400.36,22.28 399.36,21.71 398.36,21.15 397.36,20.59 396.36,20.06 395.36,19.53 394.36,19.02 393.36,18.52 392.36,18.03 391.36,17.56 390.36,17.10 389.36,16.66 388.37,16.23 387.37,15.81 386.37,15.41 385.37,15.02 384.37,14.65 383.37,14.29 382.37,13.94 381.37,13.62 380.37,13.30 379.37,13.01 378.37,12.73 377.37,12.46 376.37,12.21 375.37,11.98 374.37,11.76 373.37,11.56 372.37,11.37 371.37,11.20 370.37,11.04 369.37,10.89 368.37,10.76 367.37,10.64 366.38,10.53 365.38,10.43 364.38,10.35 363.38,10.28 362.38,10.22 361.38,10.17 360.38,10.13 359.38,10.10 358.38,10.08 357.38,10.07 356.38,10.07 355.38,10.08 354.38,10.10 353.38,10.13 352.38,10.16 351.38,10.20 350.38,10.25 349.38,10.30 348.38,10.36 347.38,10.43 346.38,10.50 345.39,10.58 344.39,10.67 343.39,10.76 342.39,10.85 341.39,10.95 340.39,11.05 339.39,11.15 338.39,11.26 337.39,11.37 336.39,11.48 335.39,11.59 334.39,11.71 333.39,11.83 332.39,11.95 331.39,12.06 330.39,12.18 329.39,12.30 328.39,12.42 327.39,12.54 326.39,12.66 325.39,12.77 324.39,12.89 323.40,13.00 322.40,13.11 321.40,13.22 320.40,13.32 319.40,13.42 318.40,13.52 317.40,13.61 316.40,13.70" fill="#ff8585"/>
<polyline points="313.40,11.03 314.40,10.95 315.40,10.86 316.40,10.77 317.40,10.68 318.40,10.58 319.40,10.47 320.40,10.37 321.40,10.26 322.40,10.14 323.40,10.03 324.39,9.91 325.39,9.79 326.39,9.66 327.39,9.54 328.39,9.41 329.39,9.29 330.39,9.16 331.39,9.04 332.39,8.91 333.39,8.79 334.39,8.66 335.39,8.54 336.39,8.42 337.39,8.30 338.39,8.18 339.39,8.07 340.39,7.96 341.39,7.85 342.39,7.74 343.39,7.64 344.39,7.55 345.39,7.46 346.38,7.37 347.38,7.29 348.38,7.22 349.38,7.15 350.38,7.09 351.38,7.03 352.38,6.98 353.38,6.94 354.38,6.91 355.38,6.89 356.38,6.87 357.38,6.86 358.38,6.87 359.38,6.88 360.38,6.90 361.38,6.93 362.38,6.98 363.38,7.03 364.38,7.09 365.38,7.17 366.38,7.26 367.37,7.36 368.37,7.47 369.37,7.60 370.37,7.74 371.37,7.89 372.37,8.06 373.37,8.24 374.37,8.43 375.37,8.64 376.37,8.87 377.37,9.11 378.37,9.37 379.37,9.65 380.37,9.94 381.37,10.24 382.37,10.56 383.37,10.90 384.37,11.25 385.37,11.62 386.37,12.00 387.37,12.39 388.37,12.80 389.36,13.23 390.36,13.66 391.36,14.12 392.36,14.58 393.36,15.06 394.36,15.55 395.36,16.06 396.36,16.58 397.36,17.11 398.36,17.65 399.36,18.21 400.36,18.78 401.36,19.36 402.36,19.95 403.36,20.55 404.36,21.17 405.36,21.80 406.36,22.44 407.36,23.09 408.36,23.75 409.36,24.42 410.35,25.10 411.35,25.79 412.35,26.49 413.35,27.20 414.35,27.92 415.35,28.66 416.35,29.40 417.35,30.15 418.35,30.91 419.35,31.67 420.35,32.45 421.35,33.23 422.35,34.03 423.35,34.83 424.35,35.64 425.35,36.46 426.35,37.28 427.35,38.11 428.35,38.95 429.35,39.80 430.35,40.65 431.35,41.52 432.34,42.38 433.34,43.26 434.34,44.14 435.34,45.02 436.34,45.91 437.34,46.81 438.34,47.71 439.34,48.62 440.34,49.54 441.34,50.45 442.34,51.38 443.34,52.31 444.34,53.24 445.34,54.17 446.34,55.11 447.34,56.06 448.34,57.01 449.34,57.96 450.34,58.91 451.34,59.87 452.34,60.83 453.33,61.79 454.33,62.76 455.33,63.73 456.33,64.70 457.33,65.67 458.33,66.64 459.33,67.62 460.33,68.59 461.33,69.57 462.33,70.55 463.33,71.53 464.33,72.51 465.33,73.49 466.33,74.47 467.33,75.45 468.33,76.43 469.33,77.41 470.33,78.39 471.33,79.37 472.33,80.34 473.33,81.32 474.33,82.29 475.32,83.27 476.32,84.24 477.32,85.21 478.32,86.17 479.32,87.14 480.32,88.10 481.32,89.06 482.32,90.02 483.32,90.97 484.32,91.92 485.32,92.87 486.32,93.81 487.32,94.75 488.32,95.68 489.32,96.61 490.32,97.54 491.32,98.46 492.32,99.38 493.32,100.29 494.32,101.19 495.32,102.09 496.31,102.99 497.31,103.88 498.31,104.76 499.31,105.64 500.31,106.51 501.31,107.37 502.31,108.23 503.31,109.08 504.31,109.92 505.31,110.76 506.31,111.59 507.31,112.41 508.31,113.22 509.31,114.02 510.31,114.82 511.31,115.61 512.31,116.38 513.31,117.15 514.31,117.91 515.31,118.66 516.31,119.41 517.31,120.14 518.30,120.86 519.30,121.57 520.30,122.27 521.30,122.96 522.30,123.64 523.30,124.31 524.30,124.97 525.30,125.62 526.30,126.25 527.30,126.88 528.30,127.49" fill="none" stroke="#ff1414" stroke-width="2.5" stroke-linejoin="round"/>
<polygon points="316.50,31.42 317.50,31.39 318.49,31.35 319.49,31.31 320.49,31.26 321.49,31.21 322.49,31.16 323.49,31.10 324.49,31.04 325.49,30.98 326.49,30.92 327.49,30.86 328.49,30.80 329.48,30.73 330.48,30.67 331.48,30.61 332.48,30.54 333.48,30.48 334.48,30.42 335.48,30.36 336.48,30.30 337.48,30.24 338.48,30.19 339.48,30.13 340.47,30.09 341.47,30.04 342.47,30.00 343.47,29.96 344.47,29.93 345.47,29.90 346.47,29.87 347.47,29.86 348.47,29.84 349.47,29.84 350.46,29.84 351.46,29.84 352.46,29.85 353.46,29.87 354.46,29.90 355.46,29.94 356.46,29.98 357.46,30.03 358.46,30.09 359.46,30.16 360.46,30.24 361.45,30.33 362.45,30.43 363.45,30.55 364.45,30.67 365.45,30.80 366.45,30.94 367.45,31.10 368.45,31.26 369.45,31.44 370.45,31.63 371.45,31.83 372.44,32.04 373.44,32.26 374.44,32.49 375.44,32.73 376.44,32.99 377.44,33.25 378.44,33.52 379.44,33.81 380.44,34.10 381.44,34.40 382.44,34.72 383.43,35.04 384.43,35.37 385.43,35.72 386.43,36.07 387.43,36.43 388.43,36.81 389.43,37.19 390.43,37.58 391.43,37.98 392.43,38.39 393.43,38.81 394.42,39.23 395.42,39.67 396.42,40.11 397.42,40.57 398.42,41.03 399.42,41.50 400.42,41.98 401.42,42.47 402.42,42.97 403.42,43.47 404.42,43.99 405.41,44.51 406.41,45.04 407.41,45.57 408.41,46.12 409.41,46.67 410.41,47.23 411.41,47.80 412.41,48.37 413.41,48.96 414.41,49.55 415.41,50.15 416.40,50.75 417.40,51.36 418.40,51.98 419.40,52.61 420.40,53.24 421.40,53.88 422.40,54.53 423.40,55.18 424.40,55.84 425.40,56.51 426.39,57.18 427.39,57.86 428.39,58.54 429.39,59.23 430.39,59.93 431.39,60.63 432.39,61.34 433.39,62.05 434.39,62.77 435.39,63.49 436.39,64.22 437.38,64.95 438.38,65.68 439.38,66.42 440.38,67.16 441.38,67.91 442.38,68.66 443.38,69.41 444.38,70.17 445.38,70.93 446.38,71.69 447.38,72.46 448.37,73.22 449.37,73.99 450.37,74.76 451.37,75.54 452.37,76.31 453.37,77.09 454.37,77.87 455.37,78.65 456.37,79.43 457.37,80.21 458.37,80.99 459.36,81.77 460.36,82.56 461.36,83.34 462.36,84.12 463.36,84.91 464.36,85.69 465.36,86.47 466.36,87.25 467.36,88.03 468.36,88.81 469.36,89.59 470.35,90.36 471.35,91.14 472.35,91.91 473.35,92.68 474.35,93.45 475.35,94.22 476.35,94.98 477.35,95.74 478.35,96.50 479.35,97.25 480.35,98.01 481.34,98.75 482.34,99.50 483.34,100.24 484.34,100.98 485.34,101.71 486.34,102.44 487.34,103.16 488.34,103.88 489.34,104.60 490.34,105.31 491.34,106.01 492.33,106.71 493.33,107.41 494.33,108.09 495.33,108.78 496.33,109.45 497.33,110.12 498.33,110.78 499.33,111.44 500.33,112.09 501.33,112.73 502.32,113.37 503.32,114.00 504.32,114.62 505.32,115.23 506.32,115.84 507.32,116.44 508.32,117.03 509.32,117.61 510.32,118.18 511.32,118.74 512.32,119.30 513.31,119.84 514.31,120.38 515.31,120.91 516.31,121.42 517.31,121.93 518.31,122.43 519.31,122.91 520.31,123.39 521.31,123.86 522.31,124.31 523.31,124.76 524.30,125.19 525.30,125.62 526.30,126.03 527.30,126.43 528.30,126.81 529.30,127.19 529.30,140.69 528.30,139.80 527.30,138.89 526.30,137.98 525.30,137.32 524.30,136.77 523.31,136.21 522.31,135.64 521.31,135.06 520.31,134.46 519.31,133.86 518.31,133.25 517.31,132.62 516.31,131.99 515.31,131.34 514.31,130.69 513.31,130.03 512.32,129.36 511.32,128.67 510.32,127.98 509.32,127.27 508.32,126.53 507.32,125.79 506.32,125.04 505.32,124.29 504.32,123.52 503.32,122.75 502.32,121.97 501.33,121.18 500.33,120.39 499.33,119.61 498.33,118.84 497.33,118.06 496.33,117.27 495.33,116.48 494.33,115.68 493.33,114.87 492.33,114.06 491.34,113.25 490.34,112.43 489.34,111.60 488.34,110.77 487.34,109.93 486.34,109.09 485.34,108.24 484.34,107.39 483.34,106.54 482.34,105.68 481.34,104.82 480.35,103.96 479.35,103.16 478.35,102.40 477.35,101.64 476.35,100.87 475.35,100.11 474.35,99.34 473.35,98.56 472.35,97.79 471.35,97.01 470.35,96.23 469.36,95.45 468.36,94.67 467.36,93.89 466.36,93.10 465.36,92.32 464.36,91.53 463.36,90.74 462.36,89.96 461.36,89.17 460.36,88.38 459.36,87.60 458.37,86.81 457.37,86.02 456.37,85.24 455.37,84.45 454.37,83.67 453.37,82.89 452.37,82.11 451.37,81.33 450.37,80.55 449.37,79.77 448.37,79.00 447.38,78.23 446.38,77.46 445.38,76.69 444.38,75.93 443.38,75.17 442.38,74.41 441.38,73.65 440.38,72.90 439.38,72.16 438.38,71.41 437.38,70.67 436.39,69.94 435.39,69.21 434.39,68.48 433.39,67.76 432.39,67.05 431.39,66.33 430.39,65.63 429.39,64.93 428.39,64.23 427.39,63.54 426.39,62.86 425.40,62.18 424.40,61.51 423.40,60.85 422.40,60.19 421.40,59.54 420.40,58.90 419.40,58.26 418.40,57.63 417.40,57.01 416.40,56.39 415.41,55.78 414.41,55.18 413.41,54.58 412.41,54.00 411.41,53.42 410.41,52.84 409.41,52.28 408.41,51.72 407.41,51.17 406.41,50.63 405.41,50.10 404.42,49.57 403.42,49.06 402.42,48.55 401.42,48.05 400.42,47.55 399.42,47.07 398.42,46.59 397.42,46.13 396.42,45.67 395.42,45.22 394.42,44.78 393.43,44.35 392.43,43.92 391.43,43.51 390.43,43.11 389.43,42.71 388.43,42.33 387.43,41.95 386.43,41.58 385.43,41.23 384.43,40.88 383.43,40.54 382.44,40.21 381.44,39.89 380.44,39.59 379.44,39.29 378.44,39.00 377.44,38.72 376.44,38.46 375.44,38.20 374.44,37.95 373.44,37.72 372.44,37.49 371.45,37.28 370.45,37.07 369.45,36.88 368.45,36.70 367.45,36.53 366.45,36.37 365.45,36.22 364.45,36.09 363.45,35.96 362.45,35.84 361.45,35.74 360.46,35.65 359.46,35.56 358.46,35.49 357.46,35.42 356.46,35.37 355.46,35.32 354.46,35.28 353.46,35.25 352.46,35.22 351.46,35.20 350.46,35.19 349.47,35.19 348.47,35.19 347.47,35.20 346.47,35.22 345.47,35.24 344.47,35.26 343.47,35.29 342.47,35.32 341.47,35.36 340.47,35.40 339.48,35.45 338.48,35.49 337.48,35.55 336.48,35.60 335.48,35.65 334.48,35.71 333.48,35.77 332.48,35.83 331.48,35.88 330.48,35.94 329.48,36.00 328.49,36.06 327.49,36.12 326.49,36.18 325.49,36.24 324.49,36.29 323.49,36.35 322.49,36.40 321.49,36.45 320.49,36.49 319.49,36.53 318.49,36.57 317.50,36.61 316.50,36.64" fill="#8585ff"/>
<polyline points="312.50,34.12 313.50,34.10 314.50,34.08 315.50,34.06 316.50,34.03 317.50,34.00 318.49,33.96 319.49,33.92 320.49,33.87 321.49,33.83 322.49,33.77 323.49,33.72 324.49,33.67 325.49,33.61 326.49,33.55 327.49,33.49 328.49,33.43 329.48,33.36 330.48,33.30 331.48,33.24 332.48,33.18 333.48,33.12 334.48,33.06 335.48,33.00 336.48,32.94 337.48,32.89 338.48,32.83 339.48,32.78 340.47,32.74 341.47,32.69 342.47,32.65 343.47,32.62 344.47,32.59 345.47,32.56 346.47,32.54 347.47,32.52 348.47,32.51 349.47,32.50 350.46,32.50 351.46,32.51 352.46,32.53 353.46,32.55 354.46,32.58 355.46,32.62 356.46,32.66 357.46,32.72 358.46,32.78 359.46,32.85 360.46,32.93 361.45,33.02 362.45,33.13 363.45,33.24 364.45,33.36 365.45,33.50 366.45,33.64 367.45,33.80 368.45,33.97 369.45,34.15 370.45,34.34 371.45,34.54 372.44,34.75 373.44,34.97 374.44,35.21 375.44,35.45 376.44,35.70 377.44,35.97 378.44,36.24 379.44,36.53 380.44,36.82 381.44,37.13 382.44,37.45 383.43,37.77 384.43,38.11 385.43,38.45 386.43,38.81 387.43,39.17 388.43,39.55 389.43,39.93 390.43,40.32 391.43,40.72 392.43,41.13 393.43,41.55 394.42,41.98 395.42,42.42 396.42,42.87 397.42,43.32 398.42,43.79 399.42,44.26 400.42,44.74 401.42,45.23 402.42,45.73 403.42,46.24 404.42,46.75 405.41,47.28 406.41,47.81 407.41,48.35 408.41,48.89 409.41,49.45 410.41,50.01 411.41,50.58 412.41,51.16 413.41,51.74 414.41,52.34 415.41,52.94 416.40,53.54 417.40,54.16 418.40,54.78 419.40,55.41 420.40,56.04 421.40,56.68 422.40,57.33 423.40,57.99 424.40,58.65 425.40,59.32 426.39,59.99 427.39,60.67 428.39,61.36 429.39,62.05 430.39,62.75 431.39,63.45 432.39,64.16 433.39,64.87 434.39,65.59 435.39,66.32 436.39,67.04 437.38,67.78 438.38,68.51 439.38,69.25 440.38,70.00 441.38,70.75 442.38,71.50 443.38,72.25 444.38,73.01 445.38,73.77 446.38,74.54 447.38,75.30 448.37,76.07 449.37,76.85 450.37,77.62 451.37,78.39 452.37,79.17 453.37,79.95 454.37,80.73 455.37,81.51 456.37,82.29 457.37,83.08 458.37,83.86 459.36,84.65 460.36,85.43 461.36,86.21 462.36,87.00 463.36,87.78 464.36,88.57 465.36,89.35 466.36,90.13 467.36,90.92 468.36,91.70 469.36,92.48 470.35,93.26 471.35,94.03 472.35,94.81 473.35,95.58 474.35,96.35 475.35,97.12 476.35,97.88 477.35,98.65 478.35,99.41 479.35,100.16 480.35,100.92 481.34,101.67 482.34,102.41 483.34,103.16 484.34,103.90 485.34,104.63 486.34,105.36 487.34,106.09 488.34,106.81 489.34,107.53 490.34,108.24 491.34,108.94 492.33,109.64 493.33,110.34 494.33,111.03 495.33,111.71 496.33,112.39 497.33,113.06 498.33,113.73 499.33,114.39 500.33,115.04 501.33,115.68 502.32,116.32 503.32,116.95 504.32,117.57 505.32,118.19 506.32,118.80 507.32,119.40 508.32,119.99 509.32,120.57 510.32,121.14 511.32,121.71 512.32,122.27 513.31,122.81 514.31,123.35 515.31,123.88 516.31,124.40 517.31,124.91 518.31,125.41 519.31,125.90 520.31,126.38 521.31,126.84 522.31,127.30 523.31,127.75 524.30,128.18 525.30,128.61 526.30,129.02 527.30,129.42 528.30,129.81 529.30,130.19" fill="none" stroke="#1414ff" stroke-width="2.5" stroke-linejoin="round"/>
<line x1="377.3" y1="0" x2="377.3" y2="140.3" stroke="#ff2a2a" stroke-width="1.8" stroke-dasharray="4 3.5" stroke-dashoffset="-0.8"/>
<line x1="399.7" y1="0" x2="399.7" y2="140.3" stroke="#2a2aff" stroke-width="1.8" stroke-dasharray="4 3.5" stroke-dashoffset="-0.8"/>
<line x1="459.6" y1="8.1" x2="468.8" y2="8.1" stroke="#ffaaaa" stroke-width="1.8"/>
<circle cx="464.40000000000003" cy="8.1" r="1.25" fill="#ee0000"/>
<text x="469.80" y="11.0" textLength="19.00" lengthAdjust="spacingAndGlyphs" style="font-family:'Liberation Sans',sans-serif;font-size:8.1px;stroke:#1e1e1e;stroke-width:0.3px" fill="#1e1e1e">67154</text>
<text x="494.10" y="11.0" style="font-family:'Liberation Serif',serif;font-size:8.4px;font-style:italic;stroke:#1e1e1e;stroke-width:0.15px" fill="#1e1e1e">δ</text>
<text x="499.70" y="11.5" textLength="4.30" lengthAdjust="spacingAndGlyphs" style="font-family:'Liberation Sans',sans-serif;font-size:6.6px;stroke:#1e1e1e;stroke-width:0.35px" fill="#1e1e1e">=</text>
<text x="505.80" y="11.0" textLength="12.00" lengthAdjust="spacingAndGlyphs" style="font-family:'Liberation Sans',sans-serif;font-size:8.1px;stroke:#1e1e1e;stroke-width:0.3px" fill="#1e1e1e">-0.5</text>
<line x1="460.0" y1="16.7" x2="468.8" y2="16.7" stroke="#0000ff" stroke-width="1.1"/>
<circle cx="464.0" cy="16.7" r="1.2" fill="#0000ff"/>
<text x="469.80" y="18.9" textLength="19.00" lengthAdjust="spacingAndGlyphs" style="font-family:'Liberation Sans',sans-serif;font-size:8.1px;stroke:#1e1e1e;stroke-width:0.3px" fill="#1e1e1e">67184</text>
<text x="494.10" y="18.9" style="font-family:'Liberation Serif',serif;font-size:8.4px;font-style:italic;stroke:#1e1e1e;stroke-width:0.15px" fill="#1e1e1e">δ</text>
<text x="499.70" y="19.4" textLength="4.30" lengthAdjust="spacingAndGlyphs" style="font-family:'Liberation Sans',sans-serif;font-size:6.6px;stroke:#1e1e1e;stroke-width:0.35px" fill="#1e1e1e">=</text>
<text x="505.80" y="18.9" textLength="13.30" lengthAdjust="spacingAndGlyphs" style="font-family:'Liberation Sans',sans-serif;font-size:8.1px;stroke:#1e1e1e;stroke-width:0.3px" fill="#1e1e1e">+0.5</text>
<line x1="459.6" y1="29.2" x2="471.1" y2="29.2" stroke="#111" stroke-width="1.5" stroke-dasharray="3.9 3.6"/>
<text x="477.00" y="28.60" text-anchor="start" style="font-family:'Liberation Sans',sans-serif;font-size:8.2px;stroke:#1e1e1e;stroke-width:0.3px" fill="#1e1e1e">r</text>
<text x="480.20" y="32.50" text-anchor="start" style="font-family:'Liberation Sans',sans-serif;font-size:6.4px;stroke:#333;stroke-width:0.2px" fill="#333">inv</text>
<text transform="translate(290.3,85.0) rotate(-90)" style="font-family:'Liberation Sans',sans-serif;font-size:9.2px;stroke:#1e1e1e;stroke-width:0.15px" fill="#1e1e1e">T</text>
<text transform="translate(294.6,79.7) rotate(-90)" style="font-family:'Liberation Sans',sans-serif;font-size:6px;stroke:#1e1e1e;stroke-width:0.15px" fill="#333">i</text>
<text transform="translate(290.3,75.4) rotate(-90)" textLength="15.2" lengthAdjust="spacingAndGlyphs" style="font-family:'Liberation Sans',sans-serif;font-size:8.7px;stroke:#1e1e1e;stroke-width:0.18px" fill="#1e1e1e">[eV]</text>
<text x="421.60" y="162.40" text-anchor="middle" style="font-family:'Liberation Sans',sans-serif;font-size:6.4px;stroke:#1e1e1e;stroke-width:0.1px;font-style:italic" fill="#1e1e1e">ρ</text>
<text x="416.60" y="185.60" text-anchor="middle" style="font-family:'Liberation Serif',serif;font-size:16.6px;stroke:#1e1e1e;stroke-width:0.3px" fill="#1e1e1e">(b)</text>
<path d="M31.80,246.20V262.20M30.70,246.20h2.2M30.70,262.20h2.2M35.90,248.20V260.20M34.80,248.20h2.2M34.80,260.20h2.2M35.90,241.20V252.20M34.80,241.20h2.2M34.80,252.20h2.2M41.50,242.80V256.80M40.40,242.80h2.2M40.40,256.80h2.2M42.20,246.20V258.20M41.10,246.20h2.2M41.10,258.20h2.2M47.60,248.50V259.50M46.50,248.50h2.2M46.50,259.50h2.2M53.70,245.20V263.20M52.60,245.20h2.2M52.60,263.20h2.2M54.00,244.70V252.70M52.90,244.70h2.2M52.90,252.70h2.2M59.70,251.70V263.70M58.60,251.70h2.2M58.60,263.70h2.2M59.20,247.70V255.70M58.10,247.70h2.2M58.10,255.70h2.2M65.30,256.30V268.30M64.20,256.30h2.2M64.20,268.30h2.2M66.10,249.20V259.20M65.00,249.20h2.2M65.00,259.20h2.2M72.10,244.60V254.60M71.00,244.60h2.2M71.00,254.60h2.2M71.30,258.20V269.20M70.20,258.20h2.2M70.20,269.20h2.2M77.90,249.60V258.60M76.80,249.60h2.2M76.80,258.60h2.2M77.30,256.70V267.70M76.20,256.70h2.2M76.20,267.70h2.2M83.40,260.40V270.40M82.30,260.40h2.2M82.30,270.40h2.2M89.40,255.20V265.20M88.30,255.20h2.2M88.30,265.20h2.2M89.20,265.20V275.20M88.10,265.20h2.2M88.10,275.20h2.2M95.80,259.70V268.70M94.70,259.70h2.2M94.70,268.70h2.2M94.80,268.70V277.70M93.70,268.70h2.2M93.70,277.70h2.2M101.30,269.90V277.90M100.20,269.90h2.2M100.20,277.90h2.2M101.30,273.10V281.10M100.20,273.10h2.2M100.20,281.10h2.2M113.00,272.50V280.50M111.90,272.50h2.2M111.90,280.50h2.2M107.30,277.20V285.20M106.20,277.20h2.2M106.20,285.20h2.2M107.60,280.70V288.70M106.50,280.70h2.2M106.50,288.70h2.2M113.00,283.40V291.40M111.90,283.40h2.2M111.90,291.40h2.2M118.40,286.20V294.20M117.30,286.20h2.2M117.30,294.20h2.2M118.70,291.50V299.50M117.60,291.50h2.2M117.60,299.50h2.2M123.80,292.30V300.30M122.70,292.30h2.2M122.70,300.30h2.2M129.30,299.10V309.10M128.20,299.10h2.2M128.20,309.10h2.2M134.60,308.20V316.20M133.50,308.20h2.2M133.50,316.20h2.2M139.60,308.00V314.00M138.50,308.00h2.2M138.50,314.00h2.2M137.60,312.20V318.20M136.50,312.20h2.2M136.50,318.20h2.2M140.20,316.80V322.80M139.10,316.80h2.2M139.10,322.80h2.2M152.10,321.90V326.30M151.00,321.90h2.2M151.00,326.30h2.2M154.40,323.10V327.50M153.30,323.10h2.2M153.30,327.50h2.2M156.60,324.50V328.90M155.50,324.50h2.2M155.50,328.90h2.2M158.90,326.00V330.40M157.80,326.00h2.2M157.80,330.40h2.2M161.20,327.50V331.90M160.10,327.50h2.2M160.10,331.90h2.2M163.70,329.00V333.40M162.60,329.00h2.2M162.60,333.40h2.2M166.20,330.50V334.90M165.10,330.50h2.2M165.10,334.90h2.2M168.20,331.80V336.20M167.10,331.80h2.2M167.10,336.20h2.2M170.20,333.00V337.40M169.10,333.00h2.2M169.10,337.40h2.2M172.30,334.50V338.90M171.20,334.50h2.2M171.20,338.90h2.2M174.30,336.00V340.40M173.20,336.00h2.2M173.20,340.40h2.2M176.40,338.70V343.10M175.30,338.70h2.2M175.30,343.10h2.2M178.50,341.40V345.80M177.40,341.40h2.2M177.40,345.80h2.2M180.70,343.60V347.60M179.60,343.60h2.2M179.60,347.60h2.2M183.00,345.60V349.60M181.90,345.60h2.2M181.90,349.60h2.2M185.80,346.90V349.90M184.70,346.90h2.2M184.70,349.90h2.2M188.60,347.60V350.60M187.50,347.60h2.2M187.50,350.60h2.2M191.50,349.30V351.30M190.40,349.30h2.2M190.40,351.30h2.2M195.00,349.50V351.50M193.90,349.50h2.2M193.90,351.50h2.2M199.00,349.50V351.50M197.90,349.50h2.2M197.90,351.50h2.2M146.50,319.30V323.70M145.40,319.30h2.2M145.40,323.70h2.2M149.50,320.80V325.20M148.40,320.80h2.2M148.40,325.20h2.2" stroke="#ff7070" stroke-width="0.8" fill="none"/>
<g fill="#ff0000"><circle cx="31.80" cy="254.20" r="1.95"/><circle cx="35.90" cy="254.20" r="1.95"/><circle cx="35.90" cy="246.70" r="1.95"/><circle cx="41.50" cy="249.80" r="1.95"/><circle cx="42.20" cy="252.20" r="1.95"/><circle cx="47.60" cy="254.00" r="1.95"/><circle cx="53.70" cy="254.20" r="1.95"/><circle cx="54.00" cy="248.70" r="1.95"/><circle cx="59.70" cy="257.70" r="1.95"/><circle cx="59.20" cy="251.70" r="1.95"/><circle cx="65.30" cy="262.30" r="1.95"/><circle cx="66.10" cy="254.20" r="1.95"/><circle cx="72.10" cy="249.60" r="1.95"/><circle cx="71.30" cy="263.70" r="1.95"/><circle cx="77.90" cy="254.10" r="1.95"/><circle cx="77.30" cy="262.20" r="1.95"/><circle cx="83.40" cy="265.40" r="1.95"/><circle cx="89.40" cy="260.20" r="1.95"/><circle cx="89.20" cy="270.20" r="1.95"/><circle cx="95.80" cy="264.20" r="1.95"/><circle cx="94.80" cy="273.20" r="1.95"/><circle cx="101.30" cy="273.90" r="1.95"/><circle cx="101.30" cy="277.10" r="1.95"/><circle cx="113.00" cy="276.50" r="1.95"/><circle cx="107.30" cy="281.20" r="1.95"/><circle cx="107.60" cy="284.70" r="1.95"/><circle cx="113.00" cy="287.40" r="1.95"/><circle cx="118.40" cy="290.20" r="1.95"/><circle cx="118.70" cy="295.50" r="1.95"/><circle cx="123.80" cy="296.30" r="1.95"/><circle cx="129.30" cy="304.10" r="1.95"/><circle cx="134.60" cy="312.20" r="1.95"/><circle cx="139.60" cy="311.00" r="1.95"/><circle cx="137.60" cy="315.20" r="1.95"/><circle cx="140.20" cy="319.80" r="1.95"/><circle cx="152.10" cy="324.10" r="1.95"/><circle cx="154.40" cy="325.30" r="1.95"/><circle cx="156.60" cy="326.70" r="1.95"/><circle cx="158.90" cy="328.20" r="1.95"/><circle cx="161.20" cy="329.70" r="1.95"/><circle cx="163.70" cy="331.20" r="1.95"/><circle cx="166.20" cy="332.70" r="1.95"/><circle cx="168.20" cy="334.00" r="1.95"/><circle cx="170.20" cy="335.20" r="1.95"/><circle cx="172.30" cy="336.70" r="1.95"/><circle cx="174.30" cy="338.20" r="1.95"/><circle cx="176.40" cy="340.90" r="1.95"/><circle cx="178.50" cy="343.60" r="1.95"/><circle cx="180.70" cy="345.60" r="1.95"/><circle cx="183.00" cy="347.60" r="1.95"/><circle cx="185.80" cy="348.40" r="1.95"/><circle cx="188.60" cy="349.10" r="1.95"/><circle cx="191.50" cy="350.30" r="1.95"/><circle cx="195.00" cy="350.50" r="1.95"/><circle cx="199.00" cy="350.50" r="1.95"/><circle cx="146.50" cy="321.50" r="1.95"/><circle cx="149.50" cy="323.00" r="1.95"/></g>
<path d="M45.60,232.60V243.60M44.50,232.60h2.2M44.50,243.60h2.2M44.10,239.70V252.70M43.00,239.70h2.2M43.00,252.70h2.2M45.10,243.70V251.70M44.00,243.70h2.2M44.00,251.70h2.2M49.20,233.10V253.10M48.10,233.10h2.2M48.10,253.10h2.2M48.20,246.70V254.70M47.10,246.70h2.2M47.10,254.70h2.2M53.70,229.60V249.60M52.60,229.60h2.2M52.60,249.60h2.2M52.70,239.70V252.70M51.60,239.70h2.2M51.60,252.70h2.2M58.20,237.20V259.20M57.10,237.20h2.2M57.10,259.20h2.2M58.70,242.70V250.70M57.60,242.70h2.2M57.60,250.70h2.2M64.50,228.80V240.40M63.40,228.80h2.2M63.40,240.40h2.2M63.50,243.40V260.00M62.40,243.40h2.2M62.40,260.00h2.2M69.60,242.90V252.90M68.50,242.90h2.2M68.50,252.90h2.2M70.10,248.10V260.10M69.00,248.10h2.2M69.00,260.10h2.2M75.30,243.00V253.60M74.20,243.00h2.2M74.20,253.60h2.2M76.10,252.10V260.10M75.00,252.10h2.2M75.00,260.10h2.2M81.20,248.40V257.40M80.10,248.40h2.2M80.10,257.40h2.2M82.00,255.10V264.10M80.90,255.10h2.2M80.90,264.10h2.2M87.00,254.00V262.60M85.90,254.00h2.2M85.90,262.60h2.2M88.00,264.70V272.70M86.90,264.70h2.2M86.90,272.70h2.2M93.00,259.70V268.70M91.90,259.70h2.2M91.90,268.70h2.2M94.10,272.10V280.10M93.00,272.10h2.2M93.00,280.10h2.2M98.80,265.20V273.20M97.70,265.20h2.2M97.70,273.20h2.2M99.60,276.70V284.70M98.50,276.70h2.2M98.50,284.70h2.2M104.90,272.60V280.60M103.80,272.60h2.2M103.80,280.60h2.2M105.90,281.40V289.40M104.80,281.40h2.2M104.80,289.40h2.2M111.00,284.20V292.20M109.90,284.20h2.2M109.90,292.20h2.2M111.70,289.00V297.00M110.60,289.00h2.2M110.60,297.00h2.2M116.40,288.70V296.70M115.30,288.70h2.2M115.30,296.70h2.2M117.70,292.10V300.10M116.60,292.10h2.2M116.60,300.10h2.2M123.20,294.10V302.10M122.10,294.10h2.2M122.10,302.10h2.2M122.50,296.10V304.10M121.40,296.10h2.2M121.40,304.10h2.2M129.10,299.10V307.10M128.00,299.10h2.2M128.00,307.10h2.2M134.10,306.20V314.20M133.00,306.20h2.2M133.00,314.20h2.2M135.00,305.50V311.50M133.90,305.50h2.2M133.90,311.50h2.2M139.10,313.20V319.20M138.00,313.20h2.2M138.00,319.20h2.2M139.60,315.20V321.20M138.50,315.20h2.2M138.50,321.20h2.2M143.70,316.30V322.30M142.60,316.30h2.2M142.60,322.30h2.2M145.20,318.30V324.30M144.10,318.30h2.2M144.10,324.30h2.2M147.70,317.80V323.80M146.60,317.80h2.2M146.60,323.80h2.2M148.00,320.50V326.50M146.90,320.50h2.2M146.90,326.50h2.2M151.10,324.70V330.70M150.00,324.70h2.2M150.00,330.70h2.2M153.10,325.70V331.70M152.00,325.70h2.2M152.00,331.70h2.2M155.10,326.70V332.70M154.00,326.70h2.2M154.00,332.70h2.2M157.60,328.40V334.40M156.50,328.40h2.2M156.50,334.40h2.2M160.20,330.20V336.20M159.10,330.20h2.2M159.10,336.20h2.2M162.70,331.20V337.20M161.60,331.20h2.2M161.60,337.20h2.2M165.20,332.20V338.20M164.10,332.20h2.2M164.10,338.20h2.2M167.70,333.70V339.70M166.60,333.70h2.2M166.60,339.70h2.2M170.20,335.30V341.30M169.10,335.30h2.2M169.10,341.30h2.2M170.60,337.00V343.00M169.50,337.00h2.2M169.50,343.00h2.2M172.90,339.20V344.20M171.80,339.20h2.2M171.80,344.20h2.2M175.10,340.80V345.80M174.00,340.80h2.2M174.00,345.80h2.2M177.40,343.35V347.35M176.30,343.35h2.2M176.30,347.35h2.2M179.80,344.95V348.95M178.70,344.95h2.2M178.70,348.95h2.2M182.20,346.55V350.55M181.10,346.55h2.2M181.10,350.55h2.2M184.70,348.30V351.30M183.60,348.30h2.2M183.60,351.30h2.2M187.50,349.20V351.20M186.40,349.20h2.2M186.40,351.20h2.2M190.30,349.60V351.60M189.20,349.60h2.2M189.20,351.60h2.2M193.20,350.00V352.00M192.10,350.00h2.2M192.10,352.00h2.2M196.00,349.80V351.80M194.90,349.80h2.2M194.90,351.80h2.2M199.00,349.90V351.90M197.90,349.90h2.2M197.90,351.90h2.2M202.00,350.00V352.00M200.90,350.00h2.2M200.90,352.00h2.2M205.00,350.00V352.00M203.90,350.00h2.2M203.90,352.00h2.2M208.00,350.00V352.00M206.90,350.00h2.2M206.90,352.00h2.2M211.00,350.00V352.00M209.90,350.00h2.2M209.90,352.00h2.2M214.00,350.00V352.00M212.90,350.00h2.2M212.90,352.00h2.2M216.80,350.00V352.00M215.70,350.00h2.2M215.70,352.00h2.2" stroke="#7070ff" stroke-width="0.8" fill="none"/>
<g fill="#0000ff"><circle cx="45.60" cy="238.10" r="1.95"/><circle cx="44.10" cy="246.20" r="1.95"/><circle cx="45.10" cy="247.70" r="1.95"/><circle cx="49.20" cy="243.10" r="1.95"/><circle cx="48.20" cy="250.70" r="1.95"/><circle cx="53.70" cy="239.60" r="1.95"/><circle cx="52.70" cy="246.20" r="1.95"/><circle cx="58.20" cy="248.20" r="1.95"/><circle cx="58.70" cy="246.70" r="1.95"/><circle cx="64.50" cy="234.60" r="1.95"/><circle cx="63.50" cy="251.70" r="1.95"/><circle cx="69.60" cy="247.90" r="1.95"/><circle cx="70.10" cy="254.10" r="1.95"/><circle cx="75.30" cy="248.30" r="1.95"/><circle cx="76.10" cy="256.10" r="1.95"/><circle cx="81.20" cy="252.90" r="1.95"/><circle cx="82.00" cy="259.60" r="1.95"/><circle cx="87.00" cy="258.30" r="1.95"/><circle cx="88.00" cy="268.70" r="1.95"/><circle cx="93.00" cy="264.20" r="1.95"/><circle cx="94.10" cy="276.10" r="1.95"/><circle cx="98.80" cy="269.20" r="1.95"/><circle cx="99.60" cy="280.70" r="1.95"/><circle cx="104.90" cy="276.60" r="1.95"/><circle cx="105.90" cy="285.40" r="1.95"/><circle cx="111.00" cy="288.20" r="1.95"/><circle cx="111.70" cy="293.00" r="1.95"/><circle cx="116.40" cy="292.70" r="1.95"/><circle cx="117.70" cy="296.10" r="1.95"/><circle cx="123.20" cy="298.10" r="1.95"/><circle cx="122.50" cy="300.10" r="1.95"/><circle cx="129.10" cy="303.10" r="1.95"/><circle cx="134.10" cy="310.20" r="1.95"/><circle cx="135.00" cy="308.50" r="1.95"/><circle cx="139.10" cy="316.20" r="1.95"/><circle cx="139.60" cy="318.20" r="1.95"/><circle cx="143.70" cy="319.30" r="1.95"/><circle cx="145.20" cy="321.30" r="1.95"/><circle cx="147.70" cy="320.80" r="1.95"/><circle cx="148.00" cy="323.50" r="1.95"/><circle cx="151.10" cy="327.70" r="1.95"/><circle cx="153.10" cy="328.70" r="1.95"/><circle cx="155.10" cy="329.70" r="1.95"/><circle cx="157.60" cy="331.40" r="1.95"/><circle cx="160.20" cy="333.20" r="1.95"/><circle cx="162.70" cy="334.20" r="1.95"/><circle cx="165.20" cy="335.20" r="1.95"/><circle cx="167.70" cy="336.70" r="1.95"/><circle cx="170.20" cy="338.30" r="1.95"/><circle cx="170.60" cy="340.00" r="1.95"/><circle cx="172.90" cy="341.70" r="1.95"/><circle cx="175.10" cy="343.30" r="1.95"/><circle cx="177.40" cy="345.35" r="1.95"/><circle cx="179.80" cy="346.95" r="1.95"/><circle cx="182.20" cy="348.55" r="1.95"/><circle cx="184.70" cy="349.80" r="1.95"/><circle cx="187.50" cy="350.20" r="1.95"/><circle cx="190.30" cy="350.60" r="1.95"/><circle cx="193.20" cy="351.00" r="1.95"/><circle cx="196.00" cy="350.80" r="1.95"/><circle cx="199.00" cy="350.90" r="1.95"/><circle cx="202.00" cy="351.00" r="1.95"/><circle cx="205.00" cy="351.00" r="1.95"/><circle cx="208.00" cy="351.00" r="1.95"/><circle cx="211.00" cy="351.00" r="1.95"/><circle cx="214.00" cy="351.00" r="1.95"/><circle cx="216.80" cy="351.00" r="1.95"/></g>
<rect x="29.5" y="208.5" width="216.0" height="143.0" fill="none" stroke="#c2c2c2" stroke-width="1"/>
<line x1="29.5" y1="351.75" x2="246.0" y2="351.75" stroke="#bababa" stroke-width="1.9"/>
<text x="26.90" y="353.90" text-anchor="end" style="font-family:'Liberation Sans',sans-serif;font-size:6.8px;stroke:#1e1e1e;stroke-width:0.22px" fill="#1e1e1e">0</text>
<text x="26.00" y="330.12" text-anchor="end" style="font-family:'Liberation Sans',sans-serif;font-size:6.8px;stroke:#1e1e1e;stroke-width:0.22px" fill="#1e1e1e">200</text>
<text x="26.00" y="306.34" text-anchor="end" style="font-family:'Liberation Sans',sans-serif;font-size:6.8px;stroke:#1e1e1e;stroke-width:0.22px" fill="#1e1e1e">400</text>
<text x="26.00" y="282.56" text-anchor="end" style="font-family:'Liberation Sans',sans-serif;font-size:6.8px;stroke:#1e1e1e;stroke-width:0.22px" fill="#1e1e1e">600</text>
<text x="26.00" y="258.78" text-anchor="end" style="font-family:'Liberation Sans',sans-serif;font-size:6.8px;stroke:#1e1e1e;stroke-width:0.22px" fill="#1e1e1e">800</text>
<text x="26.00" y="235.00" text-anchor="end" style="font-family:'Liberation Sans',sans-serif;font-size:6.8px;stroke:#1e1e1e;stroke-width:0.22px" fill="#1e1e1e">1000</text>
<text x="26.00" y="211.22" text-anchor="end" style="font-family:'Liberation Sans',sans-serif;font-size:6.8px;stroke:#1e1e1e;stroke-width:0.22px" fill="#1e1e1e">1200</text>
<text x="29.75" y="360.10" text-anchor="middle" style="font-family:'Liberation Sans',sans-serif;font-size:6.8px;stroke:#1e1e1e;stroke-width:0.22px" fill="#1e1e1e">0</text>
<text x="60.55" y="360.10" text-anchor="middle" style="font-family:'Liberation Sans',sans-serif;font-size:6.8px;stroke:#1e1e1e;stroke-width:0.22px" fill="#1e1e1e">0.2</text>
<text x="91.35" y="360.10" text-anchor="middle" style="font-family:'Liberation Sans',sans-serif;font-size:6.8px;stroke:#1e1e1e;stroke-width:0.22px" fill="#1e1e1e">0.4</text>
<text x="122.15" y="360.10" text-anchor="middle" style="font-family:'Liberation Sans',sans-serif;font-size:6.8px;stroke:#1e1e1e;stroke-width:0.22px" fill="#1e1e1e">0.6</text>
<text x="152.95" y="360.10" text-anchor="middle" style="font-family:'Liberation Sans',sans-serif;font-size:6.8px;stroke:#1e1e1e;stroke-width:0.22px" fill="#1e1e1e">0.8</text>
<text x="183.75" y="360.10" text-anchor="middle" style="font-family:'Liberation Sans',sans-serif;font-size:6.8px;stroke:#1e1e1e;stroke-width:0.22px" fill="#1e1e1e">1</text>
<text x="214.55" y="360.10" text-anchor="middle" style="font-family:'Liberation Sans',sans-serif;font-size:6.8px;stroke:#1e1e1e;stroke-width:0.22px" fill="#1e1e1e">1.2</text>
<text x="245.35" y="360.10" text-anchor="middle" style="font-family:'Liberation Sans',sans-serif;font-size:6.8px;stroke:#1e1e1e;stroke-width:0.22px" fill="#1e1e1e">1.4</text>
<path d="M29.5,351.50h2.2M245.5,351.50h-2.2M29.5,327.72h2.2M245.5,327.72h-2.2M29.5,303.94h2.2M245.5,303.94h-2.2M29.5,280.16h2.2M245.5,280.16h-2.2M29.5,256.38h2.2M245.5,256.38h-2.2M29.5,232.60h2.2M245.5,232.60h-2.2M29.5,208.82h2.2M245.5,208.82h-2.2M29.75,351.5v-2.2M29.75,208.5v2.2M60.55,351.5v-2.2M60.55,208.5v2.2M91.35,351.5v-2.2M91.35,208.5v2.2M122.15,351.5v-2.2M122.15,208.5v2.2M152.95,351.5v-2.2M152.95,208.5v2.2M183.75,351.5v-2.2M183.75,208.5v2.2M214.55,351.5v-2.2M214.55,208.5v2.2M245.35,351.5v-2.2M245.35,208.5v2.2" stroke="#808080" stroke-width="0.8" fill="none"/>
<path d="M181.8,220.4V225.79999999999998M180.8,220.4h2M180.8,225.79999999999998h2" stroke="#ff6060" stroke-width="0.8" fill="none"/>
<circle cx="181.8" cy="223.1" r="1.2" fill="#ff0000"/>
<text x="186.30" y="225.15" textLength="16.2" lengthAdjust="spacingAndGlyphs" style="font-family:'Liberation Sans',sans-serif;font-size:5.8px;stroke:#1e1e1e;stroke-width:0.3px" fill="#1e1e1e">67042</text>
<text x="207.80" y="225.15" style="font-family:'Liberation Serif',serif;font-size:6.2px;font-style:italic;stroke:#1e1e1e;stroke-width:0.12px" fill="#1e1e1e">δ</text>
<text x="211.60" y="225.10" textLength="3.3" lengthAdjust="spacingAndGlyphs" style="font-family:'Liberation Sans',sans-serif;font-size:5.8px;stroke:#1e1e1e;stroke-width:0.3px" fill="#1e1e1e">=</text>
<text x="216.70" y="225.15" textLength="10.5" lengthAdjust="spacingAndGlyphs" style="font-family:'Liberation Sans',sans-serif;font-size:5.8px;stroke:#1e1e1e;stroke-width:0.3px" fill="#1e1e1e">-0.3</text>
<path d="M181.8,227.5V232.89999999999998M180.8,227.5h2M180.8,232.89999999999998h2" stroke="#6060ff" stroke-width="0.8" fill="none"/>
<circle cx="181.8" cy="230.2" r="1.2" fill="#0000ff"/>
<text x="186.30" y="232.25" textLength="16.2" lengthAdjust="spacingAndGlyphs" style="font-family:'Liberation Sans',sans-serif;font-size:5.8px;stroke:#1e1e1e;stroke-width:0.3px" fill="#1e1e1e">67181</text>
<text x="207.80" y="232.25" style="font-family:'Liberation Serif',serif;font-size:6.2px;font-style:italic;stroke:#1e1e1e;stroke-width:0.12px" fill="#1e1e1e">δ</text>
<text x="211.60" y="232.20" textLength="3.3" lengthAdjust="spacingAndGlyphs" style="font-family:'Liberation Sans',sans-serif;font-size:5.8px;stroke:#1e1e1e;stroke-width:0.3px" fill="#1e1e1e">=</text>
<text x="216.70" y="232.25" textLength="11.8" lengthAdjust="spacingAndGlyphs" style="font-family:'Liberation Sans',sans-serif;font-size:5.8px;stroke:#1e1e1e;stroke-width:0.3px" fill="#1e1e1e">+0.3</text>
<text transform="translate(5.4,292.6) rotate(-90)" style="font-family:'Liberation Sans',sans-serif;font-size:7.6px;stroke:#1e1e1e;stroke-width:0.12px" fill="#1e1e1e">T</text>
<text transform="translate(9.0,287.20000000000005) rotate(-90)" style="font-family:'Liberation Sans',sans-serif;font-size:5.2px;stroke:#1e1e1e;stroke-width:0.15px" fill="#222">e</text>
<text transform="translate(5.4,282.0) rotate(-90)" textLength="12.6" lengthAdjust="spacingAndGlyphs" style="font-family:'Liberation Sans',sans-serif;font-size:7.4px;stroke:#1e1e1e;stroke-width:0.12px" fill="#1e1e1e">[eV]</text>
<text x="138.00" y="369.00" text-anchor="middle" style="font-family:'Liberation Sans',sans-serif;font-size:5.8px;stroke:#1e1e1e;stroke-width:0.1px;font-style:italic" fill="#1e1e1e">ρ</text>
<text x="132.90" y="393.50" text-anchor="middle" style="font-family:'Liberation Serif',serif;font-size:16.6px;stroke:#1e1e1e;stroke-width:0.3px" fill="#1e1e1e">(c)</text>
<path d="M323.10,231.20V243.20M322.00,231.20h2.2M322.00,243.20h2.2M325.10,230.20V242.20M324.00,230.20h2.2M324.00,242.20h2.2M329.30,228.60V240.00M328.20,228.60h2.2M328.20,240.00h2.2M329.50,236.30V246.30M328.40,236.30h2.2M328.40,246.30h2.2M334.20,233.20V245.20M333.10,233.20h2.2M333.10,245.20h2.2M335.00,233.90V241.90M333.90,233.90h2.2M333.90,241.90h2.2M340.50,232.60V242.60M339.40,232.60h2.2M339.40,242.60h2.2M340.00,239.00V247.00M338.90,239.00h2.2M338.90,247.00h2.2M346.00,228.20V239.60M344.90,228.20h2.2M344.90,239.60h2.2M347.00,237.20V249.20M345.90,237.20h2.2M345.90,249.20h2.2M351.90,241.70V249.70M350.80,241.70h2.2M350.80,249.70h2.2M353.10,232.40V243.40M352.00,232.40h2.2M352.00,243.40h2.2M358.10,243.00V251.00M357.00,243.00h2.2M357.00,251.00h2.2M359.30,234.30V246.30M358.20,234.30h2.2M358.20,246.30h2.2M364.30,242.70V250.70M363.20,242.70h2.2M363.20,250.70h2.2M365.20,235.10V246.10M364.10,235.10h2.2M364.10,246.10h2.2M370.40,249.50V261.50M369.30,249.50h2.2M369.30,261.50h2.2M377.50,243.40V253.40M376.40,243.40h2.2M376.40,253.40h2.2M383.50,246.80V256.80M382.40,246.80h2.2M382.40,256.80h2.2M376.20,259.20V268.20M375.10,259.20h2.2M375.10,268.20h2.2M382.60,265.40V273.40M381.50,265.40h2.2M381.50,273.40h2.2M389.60,262.10V270.70M388.50,262.10h2.2M388.50,270.70h2.2M388.70,270.50V278.50M387.60,270.50h2.2M387.60,278.50h2.2M395.80,269.00V277.00M394.70,269.00h2.2M394.70,277.00h2.2M395.00,277.50V285.50M393.90,277.50h2.2M393.90,285.50h2.2M401.70,274.50V284.50M400.60,274.50h2.2M400.60,284.50h2.2M400.90,280.80V288.80M399.80,280.80h2.2M399.80,288.80h2.2M406.80,280.80V289.80M405.70,280.80h2.2M405.70,289.80h2.2M407.40,283.30V291.30M406.30,283.30h2.2M406.30,291.30h2.2M412.30,288.70V295.70M411.20,288.70h2.2M411.20,295.70h2.2M417.40,294.90V301.90M416.30,294.90h2.2M416.30,301.90h2.2M418.80,296.40V302.40M417.70,296.40h2.2M417.70,302.40h2.2M423.10,302.30V308.30M422.00,302.30h2.2M422.00,308.30h2.2M424.10,304.30V310.30M423.00,304.30h2.2M423.00,310.30h2.2M428.90,305.90V311.90M427.80,305.90h2.2M427.80,311.90h2.2M427.10,309.40V315.40M426.00,309.40h2.2M426.00,315.40h2.2M429.60,310.40V316.40M428.50,310.40h2.2M428.50,316.40h2.2M433.70,311.00V317.00M432.60,311.00h2.2M432.60,317.00h2.2M434.70,314.70V320.70M433.60,314.70h2.2M433.60,320.70h2.2M438.20,319.00V325.00M437.10,319.00h2.2M437.10,325.00h2.2M442.20,318.70V324.70M441.10,318.70h2.2M441.10,324.70h2.2M444.80,321.30V327.30M443.70,321.30h2.2M443.70,327.30h2.2M447.80,323.30V329.30M446.70,323.30h2.2M446.70,329.30h2.2M450.60,327.10V332.10M449.50,327.10h2.2M449.50,332.10h2.2M453.10,329.10V334.10M452.00,329.10h2.2M452.00,334.10h2.2M456.10,331.60V336.60M455.00,331.60h2.2M455.00,336.60h2.2M459.20,334.20V339.20M458.10,334.20h2.2M458.10,339.20h2.2M461.70,337.20V341.20M460.60,337.20h2.2M460.60,341.20h2.2M464.20,339.70V343.70M463.10,339.70h2.2M463.10,343.70h2.2M467.20,343.20V347.20M466.10,343.20h2.2M466.10,347.20h2.2M470.70,346.30V349.30M469.60,346.30h2.2M469.60,349.30h2.2M474.30,349.30V351.30M473.20,349.30h2.2M473.20,351.30h2.2M476.00,349.90V351.90M474.90,349.90h2.2M474.90,351.90h2.2M497.00,349.90V351.90M495.90,349.90h2.2M495.90,351.90h2.2" stroke="#ff7070" stroke-width="0.8" fill="none"/>
<g fill="#ff0000"><circle cx="323.10" cy="237.20" r="1.95"/><circle cx="325.10" cy="236.20" r="1.95"/><circle cx="329.30" cy="234.30" r="1.95"/><circle cx="329.50" cy="241.30" r="1.95"/><circle cx="334.20" cy="239.20" r="1.95"/><circle cx="335.00" cy="237.90" r="1.95"/><circle cx="340.50" cy="237.60" r="1.95"/><circle cx="340.00" cy="243.00" r="1.95"/><circle cx="346.00" cy="233.90" r="1.95"/><circle cx="347.00" cy="243.20" r="1.95"/><circle cx="351.90" cy="245.70" r="1.95"/><circle cx="353.10" cy="237.90" r="1.95"/><circle cx="358.10" cy="247.00" r="1.95"/><circle cx="359.30" cy="240.30" r="1.95"/><circle cx="364.30" cy="246.70" r="1.95"/><circle cx="365.20" cy="240.60" r="1.95"/><circle cx="370.40" cy="255.50" r="1.95"/><circle cx="377.50" cy="248.40" r="1.95"/><circle cx="383.50" cy="251.80" r="1.95"/><circle cx="376.20" cy="263.70" r="1.95"/><circle cx="382.60" cy="269.40" r="1.95"/><circle cx="389.60" cy="266.40" r="1.95"/><circle cx="388.70" cy="274.50" r="1.95"/><circle cx="395.80" cy="273.00" r="1.95"/><circle cx="395.00" cy="281.50" r="1.95"/><circle cx="401.70" cy="279.50" r="1.95"/><circle cx="400.90" cy="284.80" r="1.95"/><circle cx="406.80" cy="285.30" r="1.95"/><circle cx="407.40" cy="287.30" r="1.95"/><circle cx="412.30" cy="292.20" r="1.95"/><circle cx="417.40" cy="298.40" r="1.95"/><circle cx="418.80" cy="299.40" r="1.95"/><circle cx="423.10" cy="305.30" r="1.95"/><circle cx="424.10" cy="307.30" r="1.95"/><circle cx="428.90" cy="308.90" r="1.95"/><circle cx="427.10" cy="312.40" r="1.95"/><circle cx="429.60" cy="313.40" r="1.95"/><circle cx="433.70" cy="314.00" r="1.95"/><circle cx="434.70" cy="317.70" r="1.95"/><circle cx="438.20" cy="322.00" r="1.95"/><circle cx="442.20" cy="321.70" r="1.95"/><circle cx="444.80" cy="324.30" r="1.95"/><circle cx="447.80" cy="326.30" r="1.95"/><circle cx="450.60" cy="329.60" r="1.95"/><circle cx="453.10" cy="331.60" r="1.95"/><circle cx="456.10" cy="334.10" r="1.95"/><circle cx="459.20" cy="336.70" r="1.95"/><circle cx="461.70" cy="339.20" r="1.95"/><circle cx="464.20" cy="341.70" r="1.95"/><circle cx="467.20" cy="345.20" r="1.95"/><circle cx="470.70" cy="347.80" r="1.95"/><circle cx="474.30" cy="350.30" r="1.95"/><circle cx="476.00" cy="350.90" r="1.95"/><circle cx="497.00" cy="350.90" r="1.95"/></g>
<path d="M331.80,246.90V261.90M330.70,246.90h2.2M330.70,261.90h2.2M333.20,250.20V260.20M332.10,250.20h2.2M332.10,260.20h2.2M334.70,256.30V266.30M333.60,256.30h2.2M333.60,266.30h2.2M337.20,243.00V259.00M336.10,243.00h2.2M336.10,259.00h2.2M338.70,249.20V259.20M337.60,249.20h2.2M337.60,259.20h2.2M341.50,240.90V255.90M340.40,240.90h2.2M340.40,255.90h2.2M344.00,244.40V254.40M342.90,244.40h2.2M342.90,254.40h2.2M346.70,245.00V261.00M345.60,245.00h2.2M345.60,261.00h2.2M349.30,250.20V265.20M348.20,250.20h2.2M348.20,265.20h2.2M352.30,245.70V260.30M351.20,245.70h2.2M351.20,260.30h2.2M355.30,250.20V260.20M354.20,250.20h2.2M354.20,260.20h2.2M358.10,256.50V264.50M357.00,256.50h2.2M357.00,264.50h2.2M361.30,246.40V256.40M360.20,246.40h2.2M360.20,256.40h2.2M364.10,258.30V266.30M363.00,258.30h2.2M363.00,266.30h2.2M367.00,251.20V260.20M365.90,251.20h2.2M365.90,260.20h2.2M370.40,257.60V265.60M369.30,257.60h2.2M369.30,265.60h2.2M373.50,251.30V261.30M372.40,251.30h2.2M372.40,261.30h2.2M376.40,265.40V275.40M375.30,265.40h2.2M375.30,275.40h2.2M379.60,258.70V267.70M378.50,258.70h2.2M378.50,267.70h2.2M382.60,272.50V281.50M381.50,272.50h2.2M381.50,281.50h2.2M385.60,259.20V268.20M384.50,259.20h2.2M384.50,268.20h2.2M388.30,278.50V285.50M387.20,278.50h2.2M387.20,285.50h2.2M391.80,280.50V287.50M390.70,280.50h2.2M390.70,287.50h2.2M395.10,283.10V290.10M394.00,283.10h2.2M394.00,290.10h2.2M398.20,284.50V291.50M397.10,284.50h2.2M397.10,291.50h2.2M404.10,287.90V294.90M403.00,287.90h2.2M403.00,294.90h2.2M401.10,290.70V297.70M400.00,290.70h2.2M400.00,297.70h2.2M407.40,293.70V300.70M406.30,293.70h2.2M406.30,300.70h2.2M410.20,297.70V303.70M409.10,297.70h2.2M409.10,303.70h2.2M413.10,299.50V305.50M412.00,299.50h2.2M412.00,305.50h2.2M418.60,308.20V314.20M417.50,308.20h2.2M417.50,314.20h2.2M421.60,308.70V314.70M420.50,308.70h2.2M420.50,314.70h2.2M424.10,311.20V317.20M423.00,311.20h2.2M423.00,317.20h2.2M427.60,315.20V321.20M426.50,315.20h2.2M426.50,321.20h2.2M429.60,314.70V320.70M428.50,314.70h2.2M428.50,320.70h2.2M432.70,319.00V325.00M431.60,319.00h2.2M431.60,325.00h2.2M436.20,322.80V328.80M435.10,322.80h2.2M435.10,328.80h2.2M438.70,324.30V330.30M437.60,324.30h2.2M437.60,330.30h2.2M442.20,325.80V331.80M441.10,325.80h2.2M441.10,331.80h2.2M441.00,328.10V334.10M439.90,328.10h2.2M439.90,334.10h2.2M443.50,330.60V335.60M442.40,330.60h2.2M442.40,335.60h2.2M446.10,332.70V337.70M445.00,332.70h2.2M445.00,337.70h2.2M449.10,334.20V339.20M448.00,334.20h2.2M448.00,339.20h2.2M452.10,335.70V340.70M451.00,335.70h2.2M451.00,340.70h2.2M455.10,337.70V342.70M454.00,337.70h2.2M454.00,342.70h2.2M458.20,339.70V344.70M457.10,339.70h2.2M457.10,344.70h2.2M460.70,342.20V346.20M459.60,342.20h2.2M459.60,346.20h2.2M463.20,344.20V348.20M462.10,344.20h2.2M462.10,348.20h2.2M465.70,345.70V349.70M464.60,345.70h2.2M464.60,349.70h2.2M468.20,347.80V350.80M467.10,347.80h2.2M467.10,350.80h2.2M470.80,348.80V350.80M469.70,348.80h2.2M469.70,350.80h2.2M473.30,349.30V351.30M472.20,349.30h2.2M472.20,351.30h2.2M479.40,349.90V351.90M478.30,349.90h2.2M478.30,351.90h2.2M482.80,349.90V351.90M481.70,349.90h2.2M481.70,351.90h2.2M486.00,349.90V351.90M484.90,349.90h2.2M484.90,351.90h2.2M489.20,349.90V351.90M488.10,349.90h2.2M488.10,351.90h2.2M492.10,349.90V351.90M491.00,349.90h2.2M491.00,351.90h2.2M502.60,349.90V351.90M501.50,349.90h2.2M501.50,351.90h2.2" stroke="#7070ff" stroke-width="0.8" fill="none"/>
<g fill="#0000ff"><circle cx="331.80" cy="254.40" r="1.95"/><circle cx="333.20" cy="255.20" r="1.95"/><circle cx="334.70" cy="261.30" r="1.95"/><circle cx="337.20" cy="251.00" r="1.95"/><circle cx="338.70" cy="254.20" r="1.95"/><circle cx="341.50" cy="248.40" r="1.95"/><circle cx="344.00" cy="249.40" r="1.95"/><circle cx="346.70" cy="253.00" r="1.95"/><circle cx="349.30" cy="257.70" r="1.95"/><circle cx="352.30" cy="253.00" r="1.95"/><circle cx="355.30" cy="255.20" r="1.95"/><circle cx="358.10" cy="260.50" r="1.95"/><circle cx="361.30" cy="251.40" r="1.95"/><circle cx="364.10" cy="262.30" r="1.95"/><circle cx="367.00" cy="255.70" r="1.95"/><circle cx="370.40" cy="261.60" r="1.95"/><circle cx="373.50" cy="256.30" r="1.95"/><circle cx="376.40" cy="270.40" r="1.95"/><circle cx="379.60" cy="263.20" r="1.95"/><circle cx="382.60" cy="277.00" r="1.95"/><circle cx="385.60" cy="263.70" r="1.95"/><circle cx="388.30" cy="282.00" r="1.95"/><circle cx="391.80" cy="284.00" r="1.95"/><circle cx="395.10" cy="286.60" r="1.95"/><circle cx="398.20" cy="288.00" r="1.95"/><circle cx="404.10" cy="291.40" r="1.95"/><circle cx="401.10" cy="294.20" r="1.95"/><circle cx="407.40" cy="297.20" r="1.95"/><circle cx="410.20" cy="300.70" r="1.95"/><circle cx="413.10" cy="302.50" r="1.95"/><circle cx="418.60" cy="311.20" r="1.95"/><circle cx="421.60" cy="311.70" r="1.95"/><circle cx="424.10" cy="314.20" r="1.95"/><circle cx="427.60" cy="318.20" r="1.95"/><circle cx="429.60" cy="317.70" r="1.95"/><circle cx="432.70" cy="322.00" r="1.95"/><circle cx="436.20" cy="325.80" r="1.95"/><circle cx="438.70" cy="327.30" r="1.95"/><circle cx="442.20" cy="328.80" r="1.95"/><circle cx="441.00" cy="331.10" r="1.95"/><circle cx="443.50" cy="333.10" r="1.95"/><circle cx="446.10" cy="335.20" r="1.95"/><circle cx="449.10" cy="336.70" r="1.95"/><circle cx="452.10" cy="338.20" r="1.95"/><circle cx="455.10" cy="340.20" r="1.95"/><circle cx="458.20" cy="342.20" r="1.95"/><circle cx="460.70" cy="344.20" r="1.95"/><circle cx="463.20" cy="346.20" r="1.95"/><circle cx="465.70" cy="347.70" r="1.95"/><circle cx="468.20" cy="349.30" r="1.95"/><circle cx="470.80" cy="349.80" r="1.95"/><circle cx="473.30" cy="350.30" r="1.95"/><circle cx="479.40" cy="350.90" r="1.95"/><circle cx="482.80" cy="350.90" r="1.95"/><circle cx="486.00" cy="350.90" r="1.95"/><circle cx="489.20" cy="350.90" r="1.95"/><circle cx="492.10" cy="350.90" r="1.95"/><circle cx="502.60" cy="350.90" r="1.95"/></g>
<rect x="313.5" y="206.5" width="216.0" height="145.0" fill="none" stroke="#c2c2c2" stroke-width="1"/>
<line x1="313.5" y1="351.75" x2="530.0" y2="351.75" stroke="#bababa" stroke-width="1.9"/>
<text x="310.70" y="353.90" text-anchor="end" style="font-family:'Liberation Sans',sans-serif;font-size:6.8px;stroke:#1e1e1e;stroke-width:0.22px" fill="#1e1e1e">0</text>
<text x="309.80" y="329.70" text-anchor="end" style="font-family:'Liberation Sans',sans-serif;font-size:6.8px;stroke:#1e1e1e;stroke-width:0.22px" fill="#1e1e1e">200</text>
<text x="309.80" y="305.50" text-anchor="end" style="font-family:'Liberation Sans',sans-serif;font-size:6.8px;stroke:#1e1e1e;stroke-width:0.22px" fill="#1e1e1e">400</text>
<text x="309.80" y="281.30" text-anchor="end" style="font-family:'Liberation Sans',sans-serif;font-size:6.8px;stroke:#1e1e1e;stroke-width:0.22px" fill="#1e1e1e">600</text>
<text x="309.80" y="257.10" text-anchor="end" style="font-family:'Liberation Sans',sans-serif;font-size:6.8px;stroke:#1e1e1e;stroke-width:0.22px" fill="#1e1e1e">800</text>
<text x="309.80" y="232.90" text-anchor="end" style="font-family:'Liberation Sans',sans-serif;font-size:6.8px;stroke:#1e1e1e;stroke-width:0.22px" fill="#1e1e1e">1000</text>
<text x="309.80" y="208.70" text-anchor="end" style="font-family:'Liberation Sans',sans-serif;font-size:6.8px;stroke:#1e1e1e;stroke-width:0.22px" fill="#1e1e1e">1200</text>
<text x="313.60" y="360.10" text-anchor="middle" style="font-family:'Liberation Sans',sans-serif;font-size:6.8px;stroke:#1e1e1e;stroke-width:0.22px" fill="#1e1e1e">0</text>
<text x="344.40" y="360.10" text-anchor="middle" style="font-family:'Liberation Sans',sans-serif;font-size:6.8px;stroke:#1e1e1e;stroke-width:0.22px" fill="#1e1e1e">0.2</text>
<text x="375.20" y="360.10" text-anchor="middle" style="font-family:'Liberation Sans',sans-serif;font-size:6.8px;stroke:#1e1e1e;stroke-width:0.22px" fill="#1e1e1e">0.4</text>
<text x="406.00" y="360.10" text-anchor="middle" style="font-family:'Liberation Sans',sans-serif;font-size:6.8px;stroke:#1e1e1e;stroke-width:0.22px" fill="#1e1e1e">0.6</text>
<text x="436.80" y="360.10" text-anchor="middle" style="font-family:'Liberation Sans',sans-serif;font-size:6.8px;stroke:#1e1e1e;stroke-width:0.22px" fill="#1e1e1e">0.8</text>
<text x="467.60" y="360.10" text-anchor="middle" style="font-family:'Liberation Sans',sans-serif;font-size:6.8px;stroke:#1e1e1e;stroke-width:0.22px" fill="#1e1e1e">1</text>
<text x="498.40" y="360.10" text-anchor="middle" style="font-family:'Liberation Sans',sans-serif;font-size:6.8px;stroke:#1e1e1e;stroke-width:0.22px" fill="#1e1e1e">1.2</text>
<text x="529.20" y="360.10" text-anchor="middle" style="font-family:'Liberation Sans',sans-serif;font-size:6.8px;stroke:#1e1e1e;stroke-width:0.22px" fill="#1e1e1e">1.4</text>
<path d="M313.5,351.50h2.2M529.5,351.50h-2.2M313.5,327.30h2.2M529.5,327.30h-2.2M313.5,303.10h2.2M529.5,303.10h-2.2M313.5,278.90h2.2M529.5,278.90h-2.2M313.5,254.70h2.2M529.5,254.70h-2.2M313.5,230.50h2.2M529.5,230.50h-2.2M313.5,206.30h2.2M529.5,206.30h-2.2M313.60,351.5v-2.2M313.60,206.5v2.2M344.40,351.5v-2.2M344.40,206.5v2.2M375.20,351.5v-2.2M375.20,206.5v2.2M406.00,351.5v-2.2M406.00,206.5v2.2M436.80,351.5v-2.2M436.80,206.5v2.2M467.60,351.5v-2.2M467.60,206.5v2.2M498.40,351.5v-2.2M498.40,206.5v2.2M529.20,351.5v-2.2M529.20,206.5v2.2" stroke="#808080" stroke-width="0.8" fill="none"/>
<path d="M457.3,220.4V225.79999999999998M456.3,220.4h2M456.3,225.79999999999998h2" stroke="#ff6060" stroke-width="0.8" fill="none"/>
<circle cx="457.3" cy="223.1" r="1.2" fill="#ff0000"/>
<text x="461.80" y="225.15" textLength="16.2" lengthAdjust="spacingAndGlyphs" style="font-family:'Liberation Sans',sans-serif;font-size:5.8px;stroke:#1e1e1e;stroke-width:0.3px" fill="#1e1e1e">67154</text>
<text x="483.30" y="225.15" style="font-family:'Liberation Serif',serif;font-size:6.2px;font-style:italic;stroke:#1e1e1e;stroke-width:0.12px" fill="#1e1e1e">δ</text>
<text x="487.10" y="225.10" textLength="3.3" lengthAdjust="spacingAndGlyphs" style="font-family:'Liberation Sans',sans-serif;font-size:5.8px;stroke:#1e1e1e;stroke-width:0.3px" fill="#1e1e1e">=</text>
<text x="492.20" y="225.15" textLength="10.5" lengthAdjust="spacingAndGlyphs" style="font-family:'Liberation Sans',sans-serif;font-size:5.8px;stroke:#1e1e1e;stroke-width:0.3px" fill="#1e1e1e">-0.5</text>
<path d="M457.3,227.5V232.89999999999998M456.3,227.5h2M456.3,232.89999999999998h2" stroke="#6060ff" stroke-width="0.8" fill="none"/>
<circle cx="457.3" cy="230.2" r="1.2" fill="#0000ff"/>
<text x="461.80" y="232.25" textLength="16.2" lengthAdjust="spacingAndGlyphs" style="font-family:'Liberation Sans',sans-serif;font-size:5.8px;stroke:#1e1e1e;stroke-width:0.3px" fill="#1e1e1e">67184</text>
<text x="483.30" y="232.25" style="font-family:'Liberation Serif',serif;font-size:6.2px;font-style:italic;stroke:#1e1e1e;stroke-width:0.12px" fill="#1e1e1e">δ</text>
<text x="487.10" y="232.20" textLength="3.3" lengthAdjust="spacingAndGlyphs" style="font-family:'Liberation Sans',sans-serif;font-size:5.8px;stroke:#1e1e1e;stroke-width:0.3px" fill="#1e1e1e">=</text>
<text x="492.20" y="232.25" textLength="11.8" lengthAdjust="spacingAndGlyphs" style="font-family:'Liberation Sans',sans-serif;font-size:5.8px;stroke:#1e1e1e;stroke-width:0.3px" fill="#1e1e1e">+0.5</text>
<text transform="translate(289.6,291.8) rotate(-90)" style="font-family:'Liberation Sans',sans-serif;font-size:7.6px;stroke:#1e1e1e;stroke-width:0.12px" fill="#1e1e1e">T</text>
<text transform="translate(293.20000000000005,286.40000000000003) rotate(-90)" style="font-family:'Liberation Sans',sans-serif;font-size:5.2px;stroke:#1e1e1e;stroke-width:0.15px" fill="#222">e</text>
<text transform="translate(289.6,281.2) rotate(-90)" textLength="12.6" lengthAdjust="spacingAndGlyphs" style="font-family:'Liberation Sans',sans-serif;font-size:7.4px;stroke:#1e1e1e;stroke-width:0.12px" fill="#1e1e1e">[eV]</text>
<text x="421.70" y="368.80" text-anchor="middle" style="font-family:'Liberation Sans',sans-serif;font-size:5.8px;stroke:#1e1e1e;stroke-width:0.1px;font-style:italic" fill="#1e1e1e">ρ</text>
<text x="416.60" y="393.50" text-anchor="middle" style="font-family:'Liberation Serif',serif;font-size:16.6px;stroke:#1e1e1e;stroke-width:0.3px" fill="#1e1e1e">(d)</text></svg>
</body></html>
